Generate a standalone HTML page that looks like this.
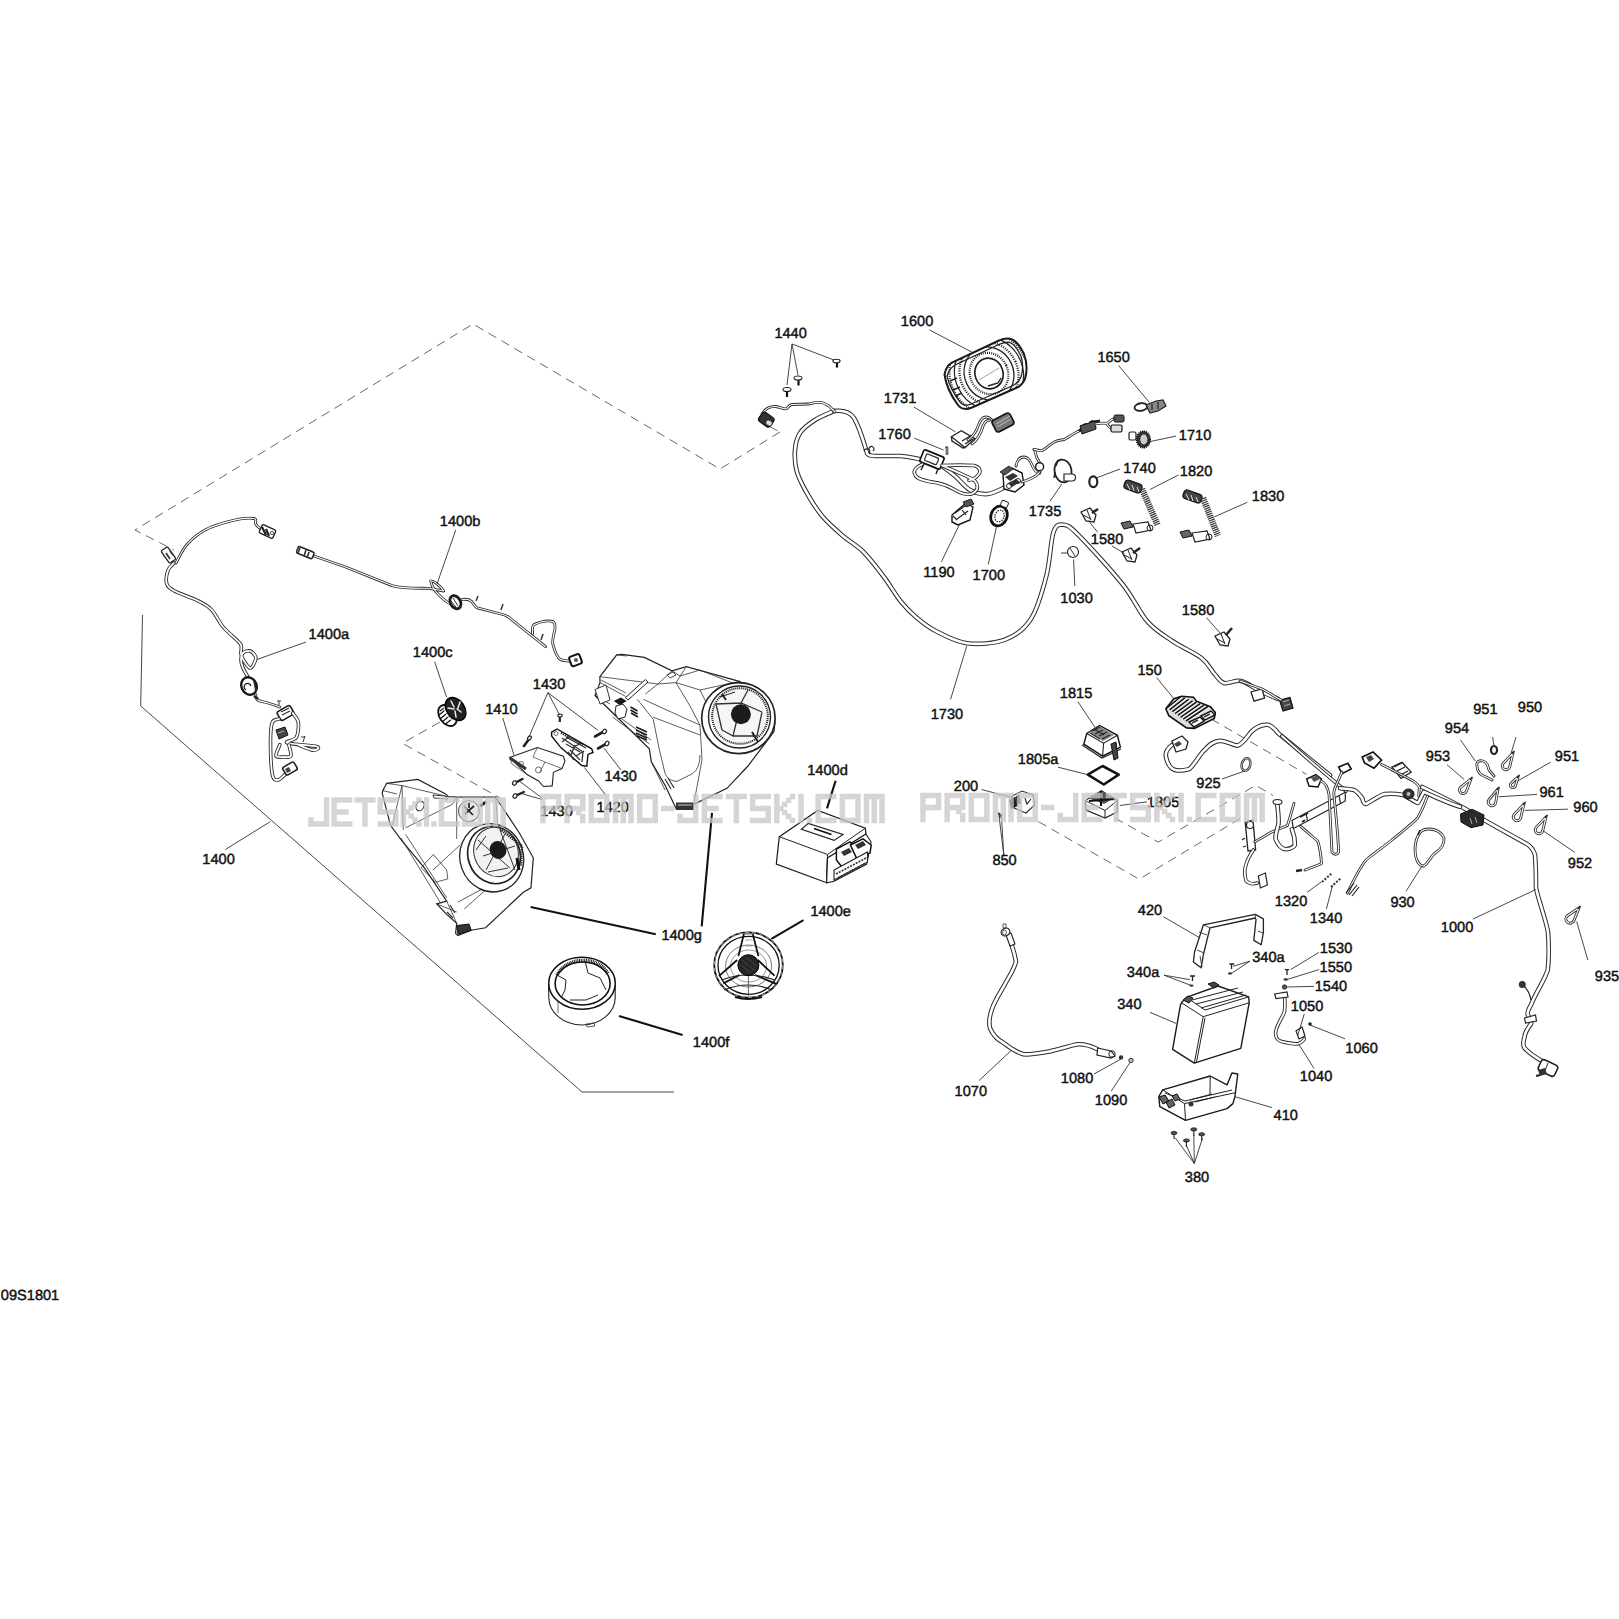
<!DOCTYPE html>
<html><head><meta charset="utf-8">
<style>
html,body{margin:0;padding:0;background:#fff;width:1619px;height:1619px;overflow:hidden}
svg{position:absolute;left:0;top:0}
text{font-family:"Liberation Sans",sans-serif;font-size:14.6px;fill:#111;stroke:#111;stroke-width:0.45;text-rendering:geometricPrecision}
.ld{stroke:#333;stroke-width:0.9;fill:none}
.lt{stroke:#111;stroke-width:2.1;fill:none}
.ds{stroke:#555;stroke-width:0.9;fill:none;stroke-dasharray:9 6}
.c2{fill:none;stroke:#2a2a2a;stroke-width:2.8;stroke-linecap:round;stroke-linejoin:round}
.c2i{fill:none;stroke:#fff;stroke-width:1.1;stroke-linecap:round;stroke-linejoin:round}
.c3{fill:none;stroke:#2a2a2a;stroke-width:3.6;stroke-linecap:round;stroke-linejoin:round}
.c3i{fill:none;stroke:#fff;stroke-width:1.8;stroke-linecap:round;stroke-linejoin:round}
.c4{fill:none;stroke:#2a2a2a;stroke-width:4.6;stroke-linecap:round;stroke-linejoin:round}
.c4i{fill:none;stroke:#fff;stroke-width:2.6;stroke-linecap:round;stroke-linejoin:round}
.p{fill:#fff;stroke:#222;stroke-width:1}
.pg{fill:#eee;stroke:#222;stroke-width:1}
.dk{fill:#2a2a2a;stroke:#111;stroke-width:1}
.th{fill:none;stroke:#333;stroke-width:0.7}
</style></head><body>
<svg width="1619" height="1619" viewBox="0 0 1619 1619">
<g id="outlines">
<polyline class="ds" points="780,432 720,469 473,324 135,530 174,550"/>
<polyline class="ld" points="142.5,615 140.7,706 582,1092 674,1092"/>
<polyline class="ds" points="439.8,722.1 402.5,743.3 500,798"/>
</g>
<g id="outlines2">
<polyline class="ds" points="769.6,426.5 780.8,432.6"/>
<polyline class="ds" points="1038.4,821.6 1139.2,879.2 1243.4,816.6"/>
<polyline class="ds" points="1115,818 1158.2,842.1 1255.8,785.3 1273,795.6"/>
<polyline class="ds" points="1211.3,719 1306.6,774.4"/>
</g>
<path d="M174.0,563.0 C173.0,564.2 169.2,567.0 168.0,570.4 C166.8,573.8 165.7,580.0 166.7,583.4 C167.7,586.8 169.1,588.0 174.0,590.8 C178.9,593.6 190.1,596.9 196.3,600.0 C202.5,603.1 206.9,605.1 211.2,609.4 C215.5,613.7 218.9,621.7 222.3,626.0 C225.7,630.3 228.5,632.2 231.6,635.3 C234.7,638.4 239.2,641.5 240.8,644.6 C242.4,647.7 240.5,651.1 241.0,653.8 C241.5,656.5 242.5,658.6 244.0,661.0 C245.5,663.4 248.4,667.5 250.0,668.0 C251.6,668.5 252.9,665.8 253.8,664.0 C254.8,662.2 256.3,659.2 255.7,657.0 C255.1,654.8 252.1,651.7 250.0,651.0 C247.9,650.3 244.5,651.5 243.0,653.0 C241.5,654.5 241.0,657.5 241.0,660.0 C241.0,662.5 241.8,665.2 243.0,668.0 C244.2,670.8 247.2,675.5 248.0,677.0" class="c3"/><path d="M174.0,563.0 C173.0,564.2 169.2,567.0 168.0,570.4 C166.8,573.8 165.7,580.0 166.7,583.4 C167.7,586.8 169.1,588.0 174.0,590.8 C178.9,593.6 190.1,596.9 196.3,600.0 C202.5,603.1 206.9,605.1 211.2,609.4 C215.5,613.7 218.9,621.7 222.3,626.0 C225.7,630.3 228.5,632.2 231.6,635.3 C234.7,638.4 239.2,641.5 240.8,644.6 C242.4,647.7 240.5,651.1 241.0,653.8 C241.5,656.5 242.5,658.6 244.0,661.0 C245.5,663.4 248.4,667.5 250.0,668.0 C251.6,668.5 252.9,665.8 253.8,664.0 C254.8,662.2 256.3,659.2 255.7,657.0 C255.1,654.8 252.1,651.7 250.0,651.0 C247.9,650.3 244.5,651.5 243.0,653.0 C241.5,654.5 241.0,657.5 241.0,660.0 C241.0,662.5 241.8,665.2 243.0,668.0 C244.2,670.8 247.2,675.5 248.0,677.0" class="c3i"/>
<path d="M176.0,563.0 C177.8,559.9 182.1,550.0 187.0,544.5 C191.9,539.0 197.9,533.7 205.6,529.7 C213.3,525.7 225.4,522.3 233.4,520.4 C241.4,518.5 250.1,517.9 253.8,518.5 C257.5,519.1 254.8,522.5 255.7,524.0 C256.6,525.5 258.0,526.8 259.4,527.8 C260.8,528.8 263.2,529.6 264.0,530.0" class="c2"/><path d="M176.0,563.0 C177.8,559.9 182.1,550.0 187.0,544.5 C191.9,539.0 197.9,533.7 205.6,529.7 C213.3,525.7 225.4,522.3 233.4,520.4 C241.4,518.5 250.1,517.9 253.8,518.5 C257.5,519.1 254.8,522.5 255.7,524.0 C256.6,525.5 258.0,526.8 259.4,527.8 C260.8,528.8 263.2,529.6 264.0,530.0" class="c2i"/>
<rect x="161" y="551" width="15" height="8" rx="1.5" transform="rotate(55 168.5 555)" fill="#fff" stroke="#222" stroke-width="1.3"/>
<path d="M166,553 l4,6 M170,551 l3,4" stroke="#333" stroke-width="1.6"/>
<rect x="260" y="527" width="15" height="9" rx="1.5" transform="rotate(25 267.5 531.5)" fill="#fff" stroke="#222" stroke-width="1.3"/>
<path d="M262,527 l4,8 M266,529 l3,7" stroke="#222" stroke-width="2.2"/><circle cx="272" cy="533" r="1.6" fill="none" stroke="#222" stroke-width="0.8"/>
<ellipse cx="249" cy="686" rx="7.5" ry="9" transform="rotate(-25 249 686)" fill="#fff" stroke="#1a1a1a" stroke-width="2.4"/>
<path d="M246,690 a3.5,3.5 0 1,1 5,-4" fill="none" stroke="#222" stroke-width="1.3"/><path d="M254,680 l2,10" stroke="#222" stroke-width="2"/>
<path d="M255.7,694.6 C256.0,695.5 255.4,698.6 257.5,700.0 C259.6,701.4 264.3,701.8 268.0,703.0 C271.7,704.2 277.8,706.3 279.8,707.0" class="c2"/><path d="M255.7,694.6 C256.0,695.5 255.4,698.6 257.5,700.0 C259.6,701.4 264.3,701.8 268.0,703.0 C271.7,704.2 277.8,706.3 279.8,707.0" class="c2i"/>
<path d="M254,696 l4,3" stroke="#222" stroke-width="2.5"/>
<rect x="278" y="708" width="15" height="10" rx="2" transform="rotate(-30 285.5 713)" fill="#fff" stroke="#1a1a1a" stroke-width="1.6"/>
<path d="M281,712 l8,-4 M282,715 l8,-4" stroke="#333" stroke-width="1.3"/>
<path d="M279,705 v-4 M277,701 h4" stroke="#333" stroke-width="1"/>
<path d="M279.0,719.0 C277.9,719.6 273.7,718.7 272.3,722.4 C270.9,726.1 270.5,732.4 270.5,741.0 C270.5,749.6 271.1,767.8 272.3,774.3 C273.6,780.8 275.8,780.0 278.0,780.0 C280.2,780.0 284.1,775.2 285.3,774.3" class="c3"/><path d="M279.0,719.0 C277.9,719.6 273.7,718.7 272.3,722.4 C270.9,726.1 270.5,732.4 270.5,741.0 C270.5,749.6 271.1,767.8 272.3,774.3 C273.6,780.8 275.8,780.0 278.0,780.0 C280.2,780.0 284.1,775.2 285.3,774.3" class="c3i"/>
<path d="M292.7,713.0 C293.6,714.6 297.7,718.4 298.3,722.4 C298.9,726.4 298.2,733.9 296.4,737.3 C294.5,740.7 283.8,741.3 287.2,742.8 C290.6,744.3 312.5,745.3 316.8,746.5 C321.1,747.7 316.1,750.5 313.0,750.2 C309.9,749.9 300.5,745.6 298.0,744.7" class="c3"/><path d="M292.7,713.0 C293.6,714.6 297.7,718.4 298.3,722.4 C298.9,726.4 298.2,733.9 296.4,737.3 C294.5,740.7 283.8,741.3 287.2,742.8 C290.6,744.3 312.5,745.3 316.8,746.5 C321.1,747.7 316.1,750.5 313.0,750.2 C309.9,749.9 300.5,745.6 298.0,744.7" class="c3i"/>
<path d="M279.8,744.7 C279.2,746.6 275.3,753.8 276.0,755.8 C276.7,757.8 281.5,757.0 284.0,757.0 C286.5,757.0 290.1,757.8 290.9,755.8 C291.7,753.8 289.3,746.8 289.0,745.0" class="c3"/><path d="M279.8,744.7 C279.2,746.6 275.3,753.8 276.0,755.8 C276.7,757.8 281.5,757.0 284.0,757.0 C286.5,757.0 290.1,757.8 290.9,755.8 C291.7,753.8 289.3,746.8 289.0,745.0" class="c3i"/>
<path d="M276,730 l9,-3 l3,8 l-9,4 z" fill="#444" stroke="#111" stroke-width="1"/>
<path d="M278,733 l6,-2" stroke="#ccc" stroke-width="0.8"/>
<rect x="283.5" y="764" width="13" height="9" rx="2" transform="rotate(-30 290 768.5)" fill="#fff" stroke="#1a1a1a" stroke-width="1.6"/>
<path d="M285,769 l4,-2 l2,4 l-4,2 z" fill="#444"/>
<path d="M303,742 l2,-6 M301,737 h4" stroke="#333" stroke-width="1"/>
<path d="M314,556 L345.6,567 L391.9,585.6 C405,589 420,588 429,588.3 L443.7,591 C440,585 432,580 430.7,581 C432,587 436,592 438,594 C443,599 447,603 451,604" class="c2"/><path d="M314,556 L345.6,567 L391.9,585.6 C405,589 420,588 429,588.3 L443.7,591 C440,585 432,580 430.7,581 C432,587 436,592 438,594 C443,599 447,603 451,604" class="c2i"/>
<path d="M462,599.4 C466,599 470,600 471.5,601.3 C474,604 475,607 477,607.8 L501,614 C505,615 507,616 508.5,617 L545.6,646.7" class="c2"/><path d="M462,599.4 C466,599 470,600 471.5,601.3 C474,604 475,607 477,607.8 L501,614 C505,615 507,616 508.5,617 L545.6,646.7" class="c2i"/>
<path d="M532.6,633.7 C532,628 533,625 534.4,624.4 C540,622 548,620 553,621.7 C556,624 555,628 554.8,630 C553,637 552,642 553,644.8 C555,652 557,657 560.4,659.6 C564,661 568,661 571.5,661.5" class="c2"/><path d="M532.6,633.7 C532,628 533,625 534.4,624.4 C540,622 548,620 553,621.7 C556,624 555,628 554.8,630 C553,637 552,642 553,644.8 C555,652 557,657 560.4,659.6 C564,661 568,661 571.5,661.5" class="c2i"/>
<rect x="297" y="549" width="17" height="7" rx="1.5" transform="rotate(22 305 552)" fill="#fff" stroke="#222" stroke-width="1.5"/>
<path d="M300,548 l-2,5 M306,550 l-2,6 M309,552 l-2,6" stroke="#333" stroke-width="1.6"/>
<path d="M476,601 l2,-5 M501,610 l2,-6 M541,640 l2,-6" stroke="#333" stroke-width="1.5"/>
<ellipse cx="455.4" cy="602.2" rx="5" ry="7" transform="rotate(-30 455.4 602.2)" fill="#fff" stroke="#1a1a1a" stroke-width="2.8"/>
<path d="M453,598 l5,8 M451,601 l5,6" stroke="#333" stroke-width="1"/>
<rect x="570" y="655" width="11" height="10" rx="2" transform="rotate(-20 576 660)" fill="#fff" stroke="#111" stroke-width="2"/>
<circle cx="576" cy="660" r="2" fill="#555"/>
<ellipse cx="447.5" cy="715.5" rx="11.5" ry="8" transform="rotate(55 447.5 715.5)" fill="#fff" stroke="#111" stroke-width="1.8"/>
<path d="M440,711 l8,-6 M439,715 l10,-8 M440,719 l11,-9 M442,722 l11,-9 M445,724.5 l10,-8" stroke="#111" stroke-width="1.2"/>
<ellipse cx="455.6" cy="709" rx="12.6" ry="9" transform="rotate(55 455.6 709)" fill="#222" stroke="#000" stroke-width="1.4"/>
<path d="M451,701 l3,6 M448,708 l6,1 M460,702 l-2,6 M461,712 l-4,-3 M456,717 l-1,-6" stroke="#eee" stroke-width="1.5" stroke-linecap="round"/>
<path d="M444,707 C445,714 449,719 454,721" stroke="#fff" stroke-width="1" fill="none"/>
<path d="M509.6,757.5 L537.4,747.6 L563.3,756.2 L565,761 L562,768.6 L553.4,772.3 L552.2,785.9 L543.5,786.5 L538.6,781 L527.5,774.8 Z" class="p" style="stroke-width:1.1"/>
<path d="M509.6,757.5 L512,764 L527.5,774.8 M537.4,747.6 L533,757 L545,762 L562,768.6 M545,762 L540,772" class="th"/>
<path d="M510,758 l16,11" stroke="#333" stroke-width="3"/>
<circle cx="538.5" cy="770" r="3" class="th"/><circle cx="521" cy="764" r="2.5" class="th"/>
<path d="M551.6,732.2 L557,729 L591.7,748.8 L593,752.5 L588,754.4 L586.8,766.1 L581.8,765.5 L560.8,747.6 L551.6,736 Z" fill="#fff" stroke="#111" stroke-width="1.4"/>
<path d="M562,738 L583,752 L582,762 M566,744 l14,8 M570,750 l10,10 M575,745 l-4,10 M566,737 l20,11 M562,742 l8,-6 M572,748 l9,-5 M576,756 l8,-5 M568,752 l6,8" class="th" style="stroke-width:1.3"/>
<path d="M561,733 l22,12" stroke="#222" stroke-width="2.2" stroke-dasharray="1.2 1"/>
<circle cx="556" cy="733.5" r="2" class="th"/>
<path d="M524,746 L529,739" stroke="#222" stroke-width="2.6" stroke-linecap="round"/><ellipse cx="529.5" cy="738" rx="2.2" ry="1.6" transform="rotate(-50 529.5 738)" fill="#fff" stroke="#222" stroke-width="1.2"/>
<path d="M559.8,717 v5" stroke="#222" stroke-width="2.2"/><ellipse cx="560" cy="715.5" rx="2.2" ry="1.5" fill="#fff" stroke="#222" stroke-width="1.1"/>
<path d="M595,736.5 L603,732" stroke="#222" stroke-width="2.6" stroke-linecap="round"/><ellipse cx="604.5" cy="731.5" rx="1.8" ry="2.4" transform="rotate(30 604.5 731.5)" fill="#fff" stroke="#222" stroke-width="1.2"/>
<path d="M598,748.5 L606,744" stroke="#222" stroke-width="2.6" stroke-linecap="round"/><ellipse cx="607" cy="743.5" rx="1.8" ry="2.4" transform="rotate(30 607 743.5)" fill="#fff" stroke="#222" stroke-width="1.2"/>
<path d="M516,782.4 L522.5,779" stroke="#222" stroke-width="2.4" stroke-linecap="round"/><ellipse cx="514.5" cy="783" rx="1.8" ry="2.4" transform="rotate(30 514.5 783)" fill="#fff" stroke="#222" stroke-width="1.2"/>
<path d="M516.5,795.4 L523.8,792" stroke="#222" stroke-width="2.4" stroke-linecap="round"/><ellipse cx="515" cy="796" rx="1.8" ry="2.4" transform="rotate(30 515 796)" fill="#fff" stroke="#222" stroke-width="1.2"/>
<path d="M382.8,790.6 L386.7,783.3 L417.8,779.4 L445.6,793.9 L448.3,796.7 L456.7,797.2 L495.6,797.2 L518.9,832.2 L533.3,857.8 L531,887.8 L523.3,892.2 L485.6,927.8 L472.2,930 L457.8,935.6 L455.6,933.3 L456.7,923.3 L446.7,914.4 L436.7,903.9 L446.7,901.1 L424.4,867.8 L402.2,841.1 L390.6,825.6 L382.2,793.3 Z" class="p" style="stroke-width:1.2"/>
<path d="M386.7,783.3 L402,785.6 L448.3,796.7 M402,785.6 L392,826 M402,785.6 L403.3,830 M405.6,827.8 L452.2,804.4 L456.7,797.2 M382.8,790.6 L397,794 M456.7,797.2 L456.7,838.9 M495.6,797.2 L497.8,825.6 M421.1,867.8 L433.3,854.4 L446.7,870 L447.8,878.9 L435.6,882.2 Z M405.6,834.4 L446.7,897.8 M401,838 L440,902 M457.8,902.2 L484.4,887.8 M464.4,908.9 L485.6,890 M446.7,901.1 L456.7,923.3 M436.7,903.9 L456.7,912 M470,843 L462,862 L478,885 M433,870 L460,845" class="th" style="stroke-width:0.8"/>
<path d="M433,795 l12,1 l3,3 l-14,-1 z" fill="#fff" stroke="#222" stroke-width="0.9"/>
<ellipse cx="420" cy="806" rx="3.8" ry="5" transform="rotate(25 420 806)" fill="#fff" stroke="#222" stroke-width="1"/>
<circle cx="468.9" cy="811.1" r="10.5" fill="#e6e6e6" stroke="#444" stroke-width="0.9"/>
<path d="M464,806 l9,9 M474,806 l-9,8 M469,803 v5" stroke="#222" stroke-width="1.7"/>
<path d="M480,806 l6,-4" stroke="#111" stroke-width="3"/>
<ellipse cx="491.7" cy="857.8" rx="31.7" ry="34.4" transform="rotate(-20 491.7 857.8)" class="p" style="stroke-width:1.3"/>
<ellipse cx="494" cy="855" rx="26" ry="29" transform="rotate(-20 494 855)" class="p" style="stroke-width:1.7"/>
<ellipse cx="496" cy="852" rx="22" ry="25" transform="rotate(-20 496 852)" fill="#f2f2f2" stroke="#333" stroke-width="1"/>
<path d="M478,840 L510,868 M505,834 L486,870 M483,856 L515,846 M500,830 L515,870 M476,850 l10,-14 M488,872 l20,-4" class="th" style="stroke-width:1"/>
<path d="M500,829 L522,846 L521,866" stroke="#222" stroke-width="2.6" fill="none" stroke-dasharray="1.3 0.9"/>
<path d="M517,858 l2,12" stroke="#111" stroke-width="3"/>
<ellipse cx="498" cy="850" rx="8.3" ry="9" transform="rotate(-25 498 850)" fill="#1a1a1a"/>
<path d="M456.7,925.6 L469,924 L471.1,930 L458,934.4 Z" fill="#333" stroke="#111" stroke-width="1"/>
<path d="M450,905 l5,8 M447,912 l6,6" stroke="#333" stroke-width="1.2"/>
<path d="M616.7,654.9 L622.1,654.3 L644.3,657.4 L672,670.8 L686.3,666.6 L739.4,681.4 L760,692 L772,708 L775,722 L774,731.5 L748,766 L727,788.3 L693.7,804.4 L676.4,809.3 L665.3,785.8 L651.3,761.7 L649.3,748.8 L595,695.5 L600,682.6 L599.9,676.7 Z" class="p" style="stroke-width:1.2"/>
<path d="M599.9,676.7 L616.7,654.9 M600,682.6 L625.6,696.4 M601,680 L626,693 M599.9,676.7 L658,684 L672,670.8 M658,684 L645.3,694 M616.7,654.9 L627,656 M658,684 L676,682.6 L686.3,666.6 M676,682.6 L700,690 L739.4,681.4 M676,682.6 L690,706 L700,725.1 L702,760 L693.7,804.4 M612.7,717.2 L649.3,743.9 M615,714 L651,740 M637.4,699.4 L653.2,719.2 L659.2,748.8 L665.1,773.5 Q668,781 677,781.4 L692.8,773.5 Q700,768 700,755 M643.4,699.4 L700,725.1 M653.2,717.2 L700,735 M651.3,761.7 L665,790 M595,695.5 L610,704 M672,670.8 L680,676 L700,670 L745,688 M700,690 L707,704 L744,716" class="th" style="stroke-width:0.8"/>
<path d="M625.6,697.4 L645.3,679.6 L648,682 L628,700 Z" fill="#fff" stroke="#222" stroke-width="1"/>
<path d="M595,689.5 L606,685 L610,700 L600,704 Z" fill="#fff" stroke="#222" stroke-width="0.9"/>
<path d="M613.7,701 L621,697.4 L626.6,701 L620,705.3 Z" fill="#1a1a1a"/>
<path d="M616,706 l7,-2 l4,5 l-2,8 l-7,2 l-3,-6 z" fill="#fff" stroke="#222" stroke-width="1"/>
<path d="M630.5,707 l7,4 M630.5,710 l7,4 M631,713 l7,4" stroke="#1a1a1a" stroke-width="1.6"/>
<path d="M636,727 l11,5 M636,730 l11,5 M636,733 l11,5 M637,736 l10,4" stroke="#1a1a1a" stroke-width="1.5"/>
<path d="M665,779 l6,10 M668,778 l6,10" stroke="#333" stroke-width="1.2"/>
<path d="M667,675 l6,-3 l3,3 l-6,3 z" fill="none" stroke="#333" stroke-width="0.9"/>
<ellipse cx="738.4" cy="718.1" rx="36.7" ry="35.5" class="p" style="stroke-width:1.7"/>
<ellipse cx="739.5" cy="717" rx="31" ry="31" class="p" style="stroke-width:1.4"/>
<ellipse cx="740" cy="716" rx="27.8" ry="27.8" fill="#f6f6f6" stroke="#222" stroke-width="2" stroke-dasharray="1.1 0.9"/>
<path d="M716,704 L741,703 L762,712 M741,703 L733,736 L722,730 M733,736 L757,736 L762,712 M716,704 L722,730 M748,690 L741,703 M720,697 L735,692" class="th" style="stroke-width:1.3"/>
<path d="M752,732 l6,10 M726,700 l-4,-6" stroke="#222" stroke-width="2"/>
<circle cx="740.9" cy="714.2" r="10" fill="#1c1c1c"/>
<path d="M676,802.5 h18 v7.5 h-18 z" fill="#333"/>
<path d="M678,805 h14" stroke="#ccc" stroke-width="1"/>
<path d="M779.3,836.7 L817.8,810.4 L865.3,828.2 L866,834 L827.5,858 L826.7,882.7 L776.3,864.1 Z" fill="#fff" stroke="#1a1a1a" stroke-width="1.2"/>
<path d="M779.3,836.7 L827.5,854.5 L865.3,828.2 M827.5,854.5 L826.7,882.7 M830,856 L829,882" stroke="#222" stroke-width="1" fill="none"/>
<path d="M801.5,829.3 L808.2,823.4 L843,834.5 L834.1,840.4 Z" fill="none" stroke="#222" stroke-width="1.2"/>
<path d="M814,828.5 L831.5,834.5" stroke="#111" stroke-width="1.8"/>
<path d="M827.5,858 L866,834 L871,842 L866.7,864.1 L834.1,881.2 L826.7,882.7 Z" fill="#fff" stroke="#1a1a1a" stroke-width="1.1"/>
<path d="M836.4,849 L850,841.9 L856.4,850 L856,860 L842,867 L836.4,860 Z" fill="#fff" stroke="#111" stroke-width="1.5"/>
<path d="M850.4,845 L863,838.9 L871.2,845 L870,853 L857,859 Z" fill="#fff" stroke="#111" stroke-width="1.5"/>
<path d="M841,852 l8,-4 l3,4 l-8,4 z M855,845 l8,-4 l3,4 l-8,4 z" fill="#333"/>
<path d="M834,870 L867.5,852 L867.5,862 L834,880 Z" fill="#fff" stroke="#222" stroke-width="1.1"/>
<path d="M836,874 l30,-16 M838,878 l28,-15" stroke="#333" stroke-width="1.6" stroke-dasharray="2 1.2"/>
<ellipse cx="748.5" cy="965" rx="34.3" ry="32.6" fill="#fff" stroke="#111" stroke-width="1.8"/>
<ellipse cx="748.5" cy="965" rx="34.3" ry="32.6" fill="none" stroke="#fff" stroke-width="0.6" stroke-dasharray="4 3"/>
<ellipse cx="748.6" cy="965.3" rx="30.6" ry="29" fill="none" stroke="#111" stroke-width="1.3"/>
<ellipse cx="748.6" cy="966" rx="23" ry="21" fill="none" stroke="#444" stroke-width="0.7"/>
<ellipse cx="748.6" cy="966" rx="18" ry="16" fill="none" stroke="#555" stroke-width="0.6"/>
<path d="M743.9,934 L738.4,956.1 M752.8,934 L758.4,956.1 M737.2,960 L718.9,976.1 M739.5,975 L723.3,983.4 M757.8,960 L774.5,975.6 M755,975 L776.2,983.9" stroke="#111" stroke-width="1.8" fill="none"/>
<path d="M721.7,980 Q748.4,970 774.5,980 M724,990 Q748.4,980 772,990" stroke="#222" stroke-width="1.1" fill="none"/>
<path d="M748.4,976 V996 M744,934 h9" stroke="#444" stroke-width="0.8" fill="none"/>
<path d="M745,940 h7 M745,946 h7" stroke="#666" stroke-width="0.6"/>
<circle cx="748.4" cy="965.2" r="10.5" fill="#262626" stroke="#000" stroke-width="1"/>
<path d="M742,960 l12,10 M741,965 l10,8 M746,957 l10,9" stroke="#555" stroke-width="0.7"/>
<path d="M735,997 Q748,1001 762,997" stroke="#111" stroke-width="2" fill="none"/>
<path d="M548.5,984 L548.8,997.5 A33.2,27.5 0 0,0 615.2,997.5 L615.2,984 Z" fill="#fff" stroke="#222" stroke-width="1.1"/>
<path d="M558,1000 L558,1013" stroke="#333" stroke-width="0.7"/>
<ellipse cx="582" cy="983.3" rx="33.3" ry="26" fill="#fff" stroke="#111" stroke-width="1.5"/>
<ellipse cx="582.6" cy="983.5" rx="27.5" ry="21.5" fill="#fff" stroke="#111" stroke-width="1.6"/>
<path d="M557,975 C563,964 575,960 585,960.5 C596,961 604,966 608,974" fill="none" stroke="#111" stroke-width="3.6" stroke-dasharray="0.9 0.8"/>
<path d="M557,975 L566,980 L565,990 L561,998 M585,961 L588,973 L600,978 L606,990 M570,1000 L586,1000 L598,995" fill="none" stroke="#222" stroke-width="1"/>
<path d="M586,1024 l8,-1 l1,3 l-8,1 z" fill="none" stroke="#333" stroke-width="0.8"/>
<ellipse cx="787" cy="389.5" rx="4" ry="2" fill="#fff" stroke="#222" stroke-width="1.1"/><path d="M787,391.5 v5.5" stroke="#111" stroke-width="2.2"/>
<ellipse cx="798" cy="378" rx="4" ry="2" fill="#fff" stroke="#222" stroke-width="1.1"/><path d="M798.5,380 v5.5" stroke="#111" stroke-width="2.2"/>
<ellipse cx="836.5" cy="361" rx="3.6" ry="1.8" fill="#fff" stroke="#222" stroke-width="1.1"/><path d="M837,362.8 v4.8" stroke="#111" stroke-width="2.2"/>
<path d="M834.0,411.0 C830.8,412.5 820.7,416.3 815.0,420.0 C809.3,423.7 803.3,428.0 800.0,433.0 C796.7,438.0 795.5,443.5 795.0,450.0 C794.5,456.5 794.8,464.5 797.0,472.0 C799.2,479.5 803.7,487.5 808.0,495.0 C812.3,502.5 817.2,510.2 823.0,517.0 C828.8,523.8 836.3,530.2 843.0,536.0 C849.7,541.8 856.2,544.7 863.0,551.5 C869.8,558.3 877.7,568.6 884.0,577.0 C890.3,585.4 895.5,594.9 901.0,601.7 C906.5,608.5 911.2,613.1 917.0,618.0 C922.8,622.9 927.4,626.8 935.7,631.0 C944.0,635.2 955.4,641.8 966.9,643.2 C978.4,644.7 994.3,643.7 1005.0,639.7 C1015.7,635.7 1024.0,629.7 1030.9,619.0 C1037.8,608.3 1042.7,590.1 1046.4,575.7 C1050.2,561.3 1050.6,541.0 1053.4,532.5 C1056.2,524.0 1058.9,524.4 1063.0,524.7 C1067.1,525.1 1068.1,524.7 1078.0,534.6 C1087.9,544.5 1110.9,569.6 1122.4,584.0 C1133.9,598.4 1138.8,611.5 1147.0,621.0 C1155.2,630.5 1162.7,634.5 1171.8,640.7 C1180.9,646.9 1194.4,652.6 1201.4,658.0 C1208.4,663.4 1210.0,668.8 1213.8,673.0 C1217.6,677.2 1219.5,681.7 1224.0,683.0 C1228.5,684.3 1235.0,679.7 1241.0,681.0 C1247.0,682.3 1253.8,688.0 1260.0,691.0 C1266.2,694.0 1275.0,697.7 1278.0,699.0" class="c4"/><path d="M834.0,411.0 C830.8,412.5 820.7,416.3 815.0,420.0 C809.3,423.7 803.3,428.0 800.0,433.0 C796.7,438.0 795.5,443.5 795.0,450.0 C794.5,456.5 794.8,464.5 797.0,472.0 C799.2,479.5 803.7,487.5 808.0,495.0 C812.3,502.5 817.2,510.2 823.0,517.0 C828.8,523.8 836.3,530.2 843.0,536.0 C849.7,541.8 856.2,544.7 863.0,551.5 C869.8,558.3 877.7,568.6 884.0,577.0 C890.3,585.4 895.5,594.9 901.0,601.7 C906.5,608.5 911.2,613.1 917.0,618.0 C922.8,622.9 927.4,626.8 935.7,631.0 C944.0,635.2 955.4,641.8 966.9,643.2 C978.4,644.7 994.3,643.7 1005.0,639.7 C1015.7,635.7 1024.0,629.7 1030.9,619.0 C1037.8,608.3 1042.7,590.1 1046.4,575.7 C1050.2,561.3 1050.6,541.0 1053.4,532.5 C1056.2,524.0 1058.9,524.4 1063.0,524.7 C1067.1,525.1 1068.1,524.7 1078.0,534.6 C1087.9,544.5 1110.9,569.6 1122.4,584.0 C1133.9,598.4 1138.8,611.5 1147.0,621.0 C1155.2,630.5 1162.7,634.5 1171.8,640.7 C1180.9,646.9 1194.4,652.6 1201.4,658.0 C1208.4,663.4 1210.0,668.8 1213.8,673.0 C1217.6,677.2 1219.5,681.7 1224.0,683.0 C1228.5,684.3 1235.0,679.7 1241.0,681.0 C1247.0,682.3 1253.8,688.0 1260.0,691.0 C1266.2,694.0 1275.0,697.7 1278.0,699.0" class="c4i"/>
<path d="M942.0,466.0 C944.2,467.7 950.3,472.0 955.0,476.0 C959.7,480.0 964.6,487.0 970.0,490.0 C975.4,493.0 981.7,494.4 987.5,494.0 C993.3,493.6 1001.9,488.5 1004.8,487.4" class="c4"/><path d="M942.0,466.0 C944.2,467.7 950.3,472.0 955.0,476.0 C959.7,480.0 964.6,487.0 970.0,490.0 C975.4,493.0 981.7,494.4 987.5,494.0 C993.3,493.6 1001.9,488.5 1004.8,487.4" class="c4i"/>
<path d="M834,411 C842,410 850,412 854,418 C860,428 863,440 867.2,453.6 C869,456 872,456 875.9,456 L900.6,456 C910,457 916,458 921.6,459.8" class="c4"/><path d="M834,411 C842,410 850,412 854,418 C860,428 863,440 867.2,453.6 C869,456 872,456 875.9,456 L900.6,456 C910,457 916,458 921.6,459.8" class="c4i"/>
<path d="M762,414 C765,409 770,406 776,406.5 C780,407 784,410 787,408.6 C789,406 789,405 792,404.5 L809,404 C813,403 816,402 819,402.4 C823,402 826,404 829,406 C831,408 833,410 835,412" class="c2"/><path d="M762,414 C765,409 770,406 776,406.5 C780,407 784,410 787,408.6 C789,406 789,405 792,404.5 L809,404 C813,403 816,402 819,402.4 C823,402 826,404 829,406 C831,408 833,410 835,412" class="c2i"/>
<defs><clipPath id="cl16"><path d="M944.5,374.5 C946,366 950,364 953,362 L999,340.5 C1004,338.5 1009,338 1012,339.5 C1016,341 1020,346 1024,354 C1027,362 1027,372 1025,379 C1022,385 1019,387 1016,388 L972,407.5 C966,410 961,409 958,405 C952,397 946,386 944.5,374.5 Z"/></clipPath></defs>
<path d="M944.5,374.5 C946,366 950,364 953,362 L999,340.5 C1004,338.5 1009,338 1012,339.5 C1016,341 1020,346 1024,354 C1027,362 1027,372 1025,379 C1022,385 1019,387 1016,388 L972,407.5 C966,410 961,409 958,405 C952,397 946,386 944.5,374.5 Z" fill="#fff" stroke="#1a1a1a" stroke-width="2"/>
<g clip-path="url(#cl16)" fill="none" stroke="#222">
<path d="M947,376 C949,369 953,366 956,364.5 L1000,344 C1005,342 1009,342 1011,343 C1015,345 1018,350 1021,356 C1023,363 1023,371 1021,377 C1019,382 1016,384 1013,385.5 L971,404 C966,406 962,405 960,402 C954,394 949,385 947,376 Z" stroke-width="1.3"/>
<ellipse cx="989" cy="373.5" rx="19" ry="21" transform="rotate(-25 989 373.5)" stroke-width="2.2" stroke-dasharray="1 1.1"/>
<ellipse cx="989" cy="373.5" rx="24.5" ry="27" transform="rotate(-25 989 373.5)" stroke-width="1.3"/>
<ellipse cx="989" cy="373.5" rx="29" ry="32" transform="rotate(-25 989 373.5)" stroke-width="2.4" stroke-dasharray="1 1.3"/>
<ellipse cx="989" cy="373.5" rx="34" ry="37" transform="rotate(-25 989 373.5)" stroke-width="1.2"/>
<ellipse cx="989" cy="373.5" rx="39" ry="42" transform="rotate(-25 989 373.5)" stroke-width="2" stroke-dasharray="1 1.2"/>
<path d="M953,390 L960,387 M955,396 l7,-3 M950,381 l7,-3" stroke-width="1.6"/>
</g>
<ellipse cx="989" cy="373.5" rx="14" ry="15.5" transform="rotate(-20 989 373.5)" fill="#fff" stroke="#1a1a1a" stroke-width="1.6"/>
<path d="M979,380 l20,-12" stroke="#666" stroke-width="0.6"/><path d="M988,386 l10,-3 l3,-5" fill="none" stroke="#222" stroke-width="1.4"/>
<path d="M951.4,436.7 L961.3,430.8 L975,438.7 L965,447.6 Z" fill="#fff" stroke="#222" stroke-width="1.3"/>
<path d="M951.4,436.7 L952,441 L963,448 L965,447.6 M962,441 l10,-6 M965,444 l8,-5" stroke="#222" stroke-width="1.4" fill="none"/>
<path d="M968,440 C974,436 977,430 979,423.9 C981,419 983,417 986,417 C989,417 991,419 993,421" class="c2"/><path d="M968,440 C974,436 977,430 979,423.9 C981,419 983,417 986,417 C989,417 991,419 993,421" class="c2i"/>
<path d="M972,444 C977,440 981,433 983,426 C985,421 987,420 990,420" class="c2"/><path d="M972,444 C977,440 981,433 983,426 C985,421 987,420 990,420" class="c2i"/>
<rect x="993" y="416" width="20" height="13" rx="3" transform="rotate(-28 1003 422.5)" fill="#777" stroke="#111" stroke-width="1.6"/>
<path d="M996,424 l14,-8 M997,427 l14,-8" stroke="#ccc" stroke-width="0.8"/>
<path d="M945,447 h3 M946.2,447 v8 M947.8,447 v8" stroke="#222" stroke-width="0.9" fill="none"/>
<rect x="921" y="453" width="22" height="13" rx="2" transform="rotate(22 932 459.5)" fill="#fff" stroke="#111" stroke-width="1.7"/>
<rect x="925" y="456" width="13" height="7" rx="1" transform="rotate(22 932 459.5)" fill="#fff" stroke="#222" stroke-width="1.1"/>
<path d="M924,464 l-3,6 M938,469 l-2,5" stroke="#222" stroke-width="1.5"/>
<path d="M864,451 a3,3 0 1,1 5,3 M869,449 a2.5,2.5 0 1,1 4,2" fill="none" stroke="#222" stroke-width="1.2"/>
<path d="M922.2,464.2 C916,467 913,471 914.8,474 C916,479 924,481 937,482.8 C947,485 952,488 955.6,490.2 C962,494 967,495 971.6,493.9 C978,491 979,486 975,481 C968,476 952,470 942,465.5 C955,465 965,465 974,465.5 C980,467 981,471 979,474 C976,478 972,480 969,480.3" class="c3"/><path d="M922.2,464.2 C916,467 913,471 914.8,474 C916,479 924,481 937,482.8 C947,485 952,488 955.6,490.2 C962,494 967,495 971.6,493.9 C978,491 979,486 975,481 C968,476 952,470 942,465.5 C955,465 965,465 974,465.5 C980,467 981,471 979,474 C976,478 972,480 969,480.3" class="c3i"/>
<path d="M1003,474 L1012,468 L1022,473 L1024,485 L1015,492 L1004,489 Z" fill="#fff" stroke="#111" stroke-width="1.4"/>
<path d="M1005,477 l8,-4 l5,3 l-8,5 z M1008,483 l8,-4 l4,3 l-8,5 z" fill="#333"/>
<circle cx="1009" cy="486" r="2.5" fill="none" stroke="#222" stroke-width="1"/><circle cx="1018" cy="481" r="2.5" fill="none" stroke="#222" stroke-width="1"/>
<path d="M1000,472 l9,-6 l4,3 l-8,6 z" fill="#555" stroke="#111" stroke-width="0.8"/>
<path d="M1016,466 C1017,460 1020,457 1024,457 C1028,457 1030,460 1032,465 C1034,470 1036,473 1040,473" class="c2"/><path d="M1016,466 C1017,460 1020,457 1024,457 C1028,457 1030,460 1032,465 C1034,470 1036,473 1040,473" class="c2i"/>
<path d="M1022,482 C1028,480 1034,478 1038,474 C1042,470 1041,464 1037,458 C1035,454 1036,451 1034,449.4" class="c2"/><path d="M1022,482 C1028,480 1034,478 1038,474 C1042,470 1041,464 1037,458 C1035,454 1036,451 1034,449.4" class="c2i"/>
<circle cx="1039.6" cy="466.7" r="4" fill="#fff" stroke="#222" stroke-width="1.5"/>
<path d="M1034,449.4 C1038,450 1040,451 1042,450.6 C1046,449 1050,444 1054.4,442 C1058,440 1061,440 1064.3,439.5 C1069,437 1074,433 1079,431" class="c2"/><path d="M1034,449.4 C1038,450 1040,451 1042,450.6 C1046,449 1050,444 1054.4,442 C1058,440 1061,440 1064.3,439.5 C1069,437 1074,433 1079,431" class="c2i"/>
<path d="M1079,431 L1086,426 L1094,422 L1100,421" stroke="#222" stroke-width="3" fill="none"/>
<path d="M1081,428 l6,-3 M1090,424 l4,-2" stroke="#222" stroke-width="5"/>
<path d="M952,515 L966,503 L973,507 L970,520 L958,525 L952,522 Z" fill="#fff" stroke="#111" stroke-width="1.4"/>
<path d="M955,513 l10,-7 M957,519 l11,-8 M953,516 l4,4 M962,510 l4,5" stroke="#222" stroke-width="1.2"/>
<path d="M963,502 l8,-3 l3,5 l-8,3 z" fill="#555" stroke="#222" stroke-width="1"/>
<ellipse cx="999" cy="516" rx="8" ry="10" transform="rotate(20 999 516)" fill="#fff" stroke="#111" stroke-width="2.8"/>
<ellipse cx="999.5" cy="516" rx="4.5" ry="6" transform="rotate(20 999.5 516)" fill="none" stroke="#333" stroke-width="1.3" stroke-dasharray="1.5 1"/>
<rect x="1001" y="501" width="7" height="6" rx="1.5" transform="rotate(25 1004.5 504)" fill="#fff" stroke="#222" stroke-width="1"/>
<ellipse cx="1063" cy="471" rx="8.5" ry="11.5" transform="rotate(-10 1063 471)" fill="#fff" stroke="#222" stroke-width="1.8"/>
<path d="M1056,466 l2,-6 M1055,472 l-1,6" stroke="#222" stroke-width="1.4"/>
<path d="M1064,474 h8 a3,3 0 0,1 0,7 h-8 z" fill="#fff" stroke="#222" stroke-width="1.2"/>
<circle cx="1073" cy="552" r="5.5" fill="#fff" stroke="#222" stroke-width="1.1"/><path d="M1061,553 h7 M1070,548 l5,8" stroke="#222" stroke-width="0.9"/>
<ellipse cx="1093.3" cy="481.7" rx="4" ry="5.4" fill="none" stroke="#222" stroke-width="2.2"/>
<ellipse cx="1141" cy="407" rx="6.5" ry="3.8" transform="rotate(-10 1141 407)" fill="none" stroke="#222" stroke-width="1.8"/>
<path d="M1146,405 L1156,401 L1163,400 L1166,406 L1158,411 L1150,413 Z" fill="#888" stroke="#222" stroke-width="1.2"/>
<path d="M1152,404 v6 M1158,402 v7" stroke="#222" stroke-width="1.2"/>
<path d="M1080,426 l15,-5 l1,8 l-14,5 z" fill="#555" stroke="#111" stroke-width="1"/>
<path d="M1095.6,424 C1100,423 1104,423 1106.7,423.4 C1109,422 1111,420 1113,419 M1106.7,423.4 C1108,426 1110,428 1112,428" class="c2"/><path d="M1095.6,424 C1100,423 1104,423 1106.7,423.4 C1109,422 1111,420 1113,419 M1106.7,423.4 C1108,426 1110,428 1112,428" class="c2i"/>
<rect x="1114" y="415" width="10" height="7" rx="1.5" fill="#555" stroke="#111" stroke-width="1"/>
<rect x="1111" y="425" width="11" height="7" rx="1.5" fill="#ddd" stroke="#111" stroke-width="1.2"/>
<rect x="1129" y="432" width="7" height="8" rx="1.5" fill="#fff" stroke="#222" stroke-width="1.2"/>
<ellipse cx="1143.4" cy="439.5" rx="6.8" ry="8.3" fill="#333" stroke="#111" stroke-width="1.6" stroke-dasharray="1.2 0.8"/>
<ellipse cx="1143.8" cy="439.5" rx="3.5" ry="5" fill="#ccc"/>
<rect x="1124" y="482" width="18" height="9" rx="3.5" transform="rotate(20 1133 486.5)" fill="#444" stroke="#111" stroke-width="1.2"/>
<path d="M1127,484 l3,6 M1132,485 l2,6 M1137,487 l2,5" stroke="#ddd" stroke-width="1"/>
<path d="M1142,489 L1157.8,525.6" stroke="#333" stroke-width="6.5" stroke-dasharray="1.2 0.9"/>
<path d="M1133,524 l15,-2 l3,8 l-15,3 z" fill="#fff" stroke="#222" stroke-width="1.2"/>
<path d="M1121,523 l9,-2 l3,6 l-9,2 z" fill="#666" stroke="#111" stroke-width="1"/>
<circle cx="1150" cy="528" r="3" fill="none" stroke="#222" stroke-width="1"/>
<rect x="1183" y="492" width="19" height="9" rx="3.5" transform="rotate(20 1192.5 496.5)" fill="#444" stroke="#111" stroke-width="1.2"/>
<path d="M1186,494 l3,6 M1191,495 l2,6 M1196,497 l2,5" stroke="#ddd" stroke-width="1"/>
<path d="M1203,498 L1217.9,535.7" stroke="#333" stroke-width="6.5" stroke-dasharray="1.2 0.9"/>
<path d="M1192,533 l15,-2 l3,8 l-15,3 z" fill="#fff" stroke="#222" stroke-width="1.2"/>
<path d="M1180,532 l9,-2 l3,6 l-9,2 z" fill="#666" stroke="#111" stroke-width="1"/>
<circle cx="1209" cy="537" r="3" fill="none" stroke="#222" stroke-width="1"/>
<path d="M1081,512 L1090,508 L1096,515 L1094,522 L1086,521 Z" fill="#fff" stroke="#222" stroke-width="1.3"/>
<path d="M1083,515 l8,4 M1087,510 l4,10" stroke="#222" stroke-width="1"/><path d="M1092,513 l6,-4" stroke="#222" stroke-width="2.5"/>
<path d="M1122,552 L1131,548 L1137,555 L1135,562 L1127,561 Z" fill="#fff" stroke="#222" stroke-width="1.3"/>
<path d="M1124,555 l8,4 M1128,550 l4,10" stroke="#222" stroke-width="1"/><path d="M1133,553 l7,-5" stroke="#222" stroke-width="2.5"/>
<path d="M1215,636 L1224,632 L1230,639 L1228,646 L1220,645 Z" fill="#fff" stroke="#222" stroke-width="1.3"/>
<path d="M1217,639 l8,4 M1221,634 l4,10" stroke="#222" stroke-width="1"/><path d="M1226,635 l6,-7" stroke="#222" stroke-width="2.5"/>
<path d="M1165.8,708.7 L1173.8,698.8 L1181.7,696.3 L1193.5,697.3 L1196.5,701.2 L1210.3,706.7 L1215.3,712.6 L1214.3,718.5 L1194.5,728.4 L1186.6,727.9 L1168.8,715.6 Z" fill="#ddd" stroke="#111" stroke-width="1.6"/>
<path d="M1167.0,708.0 L1181.0,696.5 M1169.7,709.9 L1184.9,697.9 M1172.4,711.7 L1188.7,699.4 M1175.1,713.6 L1192.6,700.8 M1177.9,715.4 L1196.4,702.2 M1180.6,717.3 L1200.3,703.6 M1183.3,719.1 L1204.1,705.1 M1186.0,721.0 L1208.0,706.5" fill="none" stroke="#111" stroke-width="1.5"/>
<path d="M1168.0,708.8 L1182.0,697.3 M1170.7,710.7 L1185.9,698.7 M1173.4,712.5 L1189.7,700.2 M1176.1,714.4 L1193.6,701.6 M1178.9,716.2 L1197.4,703.0 M1181.6,718.1 L1201.3,704.4 M1184.3,719.9 L1205.1,705.9 M1187.0,721.8 L1209.0,707.3" fill="none" stroke="#fff" stroke-width="0.7"/>
<path d="M1189,722 l11,-5 l4,4 l-10,6 z M1201,716 l10,-5 l4,4 l-10,5 z" fill="#fff" stroke="#111" stroke-width="1.4"/>
<path d="M1192,723 l6,-3 M1204,717 l6,-3" stroke="#333" stroke-width="1.5"/>
<path d="M1083.8,744.2 L1086.8,733.4 L1099.6,725.5 L1117.4,735.3 L1120.4,747.2 L1102.6,756.1 Z" fill="#fff" stroke="#111" stroke-width="1.4"/>
<path d="M1086.8,733.4 L1103.6,743.2 L1117.4,735.3 M1103.6,743.2 L1102.6,756.1 M1082,745 L1102,758 L1121,749" fill="none" stroke="#222" stroke-width="1.1"/>
<path d="M1089,732 L1100,726.5 L1114,735 L1103,741 Z" fill="#888"/>
<path d="M1092,731 l8,-4 M1095,734 l8,-4 M1099,736 l8,-4 M1102,739 l8,-4 M1094,729 l10,6 M1090,733 l10,6" stroke="#222" stroke-width="1.1"/>
<path d="M1111,744 l5,-2 l2,16 l-4,2 z" fill="#444" stroke="#111" stroke-width="1"/>
<path d="M1251,692 L1262,688.8 L1264.6,698 L1254,701.2 Z" fill="#fff" stroke="#222" stroke-width="1.3"/>
<path d="M1279.5,700 L1290,697.5 L1293,708 L1283,711 Z" fill="#444" stroke="#111" stroke-width="1.2"/>
<path d="M1283,702 l6,-2 M1284,706 l6,-2" stroke="#ccc" stroke-width="0.8"/>
<path d="M1240,681 C1248,684 1254,686 1262,689 C1270,693 1275,697 1281,700" class="c2"/><path d="M1240,681 C1248,684 1254,686 1262,689 C1270,693 1275,697 1281,700" class="c2i"/>
<path d="M1172,745 C1168,748 1165,752 1166,757 C1168,766 1172,770 1177,770.4 C1182,771 1186,770 1189.3,769.1 C1195,764 1200,754 1204,750.6 C1210,744 1214,741 1220.2,740.7 C1227,741 1232,745 1237.5,745.6 C1243,744 1247,737 1251,732 C1256,727 1261,725 1265.9,724.6 C1270,724 1274,728 1278.2,733.3 L1330,775.3" class="c4"/><path d="M1172,745 C1168,748 1165,752 1166,757 C1168,766 1172,770 1177,770.4 C1182,771 1186,770 1189.3,769.1 C1195,764 1200,754 1204,750.6 C1210,744 1214,741 1220.2,740.7 C1227,741 1232,745 1237.5,745.6 C1243,744 1247,737 1251,732 C1256,727 1261,725 1265.9,724.6 C1270,724 1274,728 1278.2,733.3 L1330,775.3" class="c4i"/>
<path d="M1172,741 L1182,736 L1188,742 L1186,749 L1176,752 Z" fill="#fff" stroke="#222" stroke-width="1.3"/>
<path d="M1174,744 l5,-3 l3,3 l-5,3 z" fill="#444"/>
<ellipse cx="1246" cy="764.5" rx="4.2" ry="6.5" transform="rotate(15 1246 764.5)" fill="none" stroke="#222" stroke-width="2.4"/>
<ellipse cx="1246" cy="764.5" rx="4.2" ry="6.5" transform="rotate(15 1246 764.5)" fill="none" stroke="#fff" stroke-width="0.7"/>
<path d="M1422.2,787 C1440,796 1455,803 1468,810.4 M1484,820 L1528.5,845 C1532,848 1534,851 1535,855 C1536,866 1536,878 1536,888.2 C1540,905 1546,920 1548,932 C1549,945 1549,958 1547.8,970 C1545,978 1542,983 1540,986.7 C1536,994 1533,1000 1531.2,1004.5 C1528,1010 1527,1013 1527.8,1014.5 C1529,1018 1531,1021 1531.2,1023.4 C1528,1028 1525,1032 1524.5,1036.8 C1523,1042 1523,1046 1524.5,1047.9 C1528,1052 1535,1057 1542.3,1061.2" class="c4"/><path d="M1422.2,787 C1440,796 1455,803 1468,810.4 M1484,820 L1528.5,845 C1532,848 1534,851 1535,855 C1536,866 1536,878 1536,888.2 C1540,905 1546,920 1548,932 C1549,945 1549,958 1547.8,970 C1545,978 1542,983 1540,986.7 C1536,994 1533,1000 1531.2,1004.5 C1528,1010 1527,1013 1527.8,1014.5 C1529,1018 1531,1021 1531.2,1023.4 C1528,1028 1525,1032 1524.5,1036.8 C1523,1042 1523,1046 1524.5,1047.9 C1528,1052 1535,1057 1542.3,1061.2" class="c4i"/>
<path d="M1460.5,814 L1472,809.2 L1484,815 L1483,825 L1471,827.7 L1461,822 Z" fill="#2a2a2a" stroke="#111" stroke-width="1"/>
<path d="M1470,818 l2,6 M1475,817 l2,6" stroke="#bbb" stroke-width="0.9"/>
<path d="M1281.9,736 C1300,752 1320,770 1346,791" class="c3"/><path d="M1281.9,736 C1300,752 1320,770 1346,791" class="c3i"/>
<path d="M1340,788.2 C1347,789 1352,789 1354.8,790.4 C1359,793 1361,797 1362.2,798 C1363,802 1364,804 1366,804 C1372,801 1378,796 1384.5,794.1 C1392,793 1398,794 1403,794.9 C1408,797 1413,801 1417.8,803 C1420,800 1422,795 1423.8,791.9 C1435,797 1448,803 1460,806.7" class="c4"/><path d="M1340,788.2 C1347,789 1352,789 1354.8,790.4 C1359,793 1361,797 1362.2,798 C1363,802 1364,804 1366,804 C1372,801 1378,796 1384.5,794.1 C1392,793 1398,794 1403,794.9 C1408,797 1413,801 1417.8,803 C1420,800 1422,795 1423.8,791.9 C1435,797 1448,803 1460,806.7" class="c4i"/>
<path d="M1291.9,820.4 L1345.3,792.3 M1293.4,828.6 L1345.3,801.1" stroke="#222" stroke-width="1.1" fill="none"/>
<path d="M1292,820.4 L1293.4,828.6 M1306,813 l1.5,8 M1339,795.5 l1.5,8 M1345.3,792.3 L1345.3,801.1" stroke="#222" stroke-width="1.2" fill="none"/>
<path d="M1300,817 l8,-4 M1302,822 l3,-2" stroke="#222" stroke-width="1.6"/>
<path d="M1306.7,779 L1316,774.5 L1321.5,779 L1318,787 L1309,786 Z" fill="#fff" stroke="#111" stroke-width="1.4"/>
<path d="M1311,778 l6,-3 l3,4 l-6,3 z" fill="#555"/>
<path d="M1338.6,767 L1348,763.3 L1351.2,769 L1342,773.7 Z" fill="#fff" stroke="#111" stroke-width="1.6"/>
<path d="M1362.2,757 L1373,751.9 L1381.5,760 L1374,768.2 L1364.5,763 Z" fill="#fff" stroke="#111" stroke-width="1.7"/>
<path d="M1366,757 l5,-2 l3,4 l-5,3 z" fill="#444"/>
<path d="M1391.9,767 L1402,762.2 L1411.2,772 L1401,778.5 Z" fill="#fff" stroke="#222" stroke-width="1.3"/>
<path d="M1394,767 l8,-4 M1397,771 l8,-4 M1400,775 l8,-4" stroke="#222" stroke-width="1.3"/>
<path d="M1321,781 C1326,783 1328,788 1329,794.5 C1330,810 1331,835 1332,852 C1334,855 1337,855 1338.6,852 C1338,835 1336,815 1334,796 C1333,790 1335,788 1342,772" class="c2"/><path d="M1321,781 C1326,783 1328,788 1329,794.5 C1330,810 1331,835 1332,852 C1334,855 1337,855 1338.6,852 C1338,835 1336,815 1334,796 C1333,790 1335,788 1342,772" class="c2i"/>
<path d="M1381.5,764.5 C1392,770 1405,776 1414,781.5 C1417,784 1419,786 1419.3,787.4 C1419,791 1419,794 1418.6,795.6" class="c2"/><path d="M1381.5,764.5 C1392,770 1405,776 1414,781.5 C1417,784 1419,786 1419.3,787.4 C1419,791 1419,794 1418.6,795.6" class="c2i"/>
<ellipse cx="1408.5" cy="794" rx="5.5" ry="5" fill="#333" stroke="#111" stroke-width="1"/>
<circle cx="1408.5" cy="794" r="2" fill="#bbb"/>
<path d="M1245.2,822 L1253,820.4 L1255.6,850 L1248,851 Z" fill="#fff" stroke="#222" stroke-width="1.3"/>
<circle cx="1250" cy="825" r="3.5" fill="#fff" stroke="#222" stroke-width="1.2"/>
<path d="M1245,838 l-3,2 M1246,846 l-3,1" stroke="#222" stroke-width="1.2"/>
<path d="M1253.3,850 C1250,855 1247,860 1246,864.9 C1244,870 1245,877 1246,880.6 C1249,884 1254,884 1257.2,883" class="c3"/><path d="M1253.3,850 C1250,855 1247,860 1246,864.9 C1244,870 1245,877 1246,880.6 C1249,884 1254,884 1257.2,883" class="c3i"/>
<path d="M1258.4,876 l7,-3 l2,12 l-7,3 z" fill="#fff" stroke="#222" stroke-width="1.2"/>
<path d="M1254.8,841.9 L1271.1,832.3 C1278,829 1284,827 1287.4,825.6 C1290,818 1292,810 1294,803.4" class="c2"/><path d="M1254.8,841.9 L1271.1,832.3 C1278,829 1284,827 1287.4,825.6 C1290,818 1292,810 1294,803.4" class="c2i"/>
<path d="M1277,801.9 C1278,810 1279,818 1278.5,824 C1277,830 1275,835 1275.6,839 C1278,845 1282,849 1286,849.3 C1290,849 1294,847 1294.9,844.9 C1295,838 1293,832 1291.9,829.3" class="c4"/><path d="M1277,801.9 C1278,810 1279,818 1278.5,824 C1277,830 1275,835 1275.6,839 C1278,845 1282,849 1286,849.3 C1290,849 1294,847 1294.9,844.9 C1295,838 1293,832 1291.9,829.3" class="c4i"/>
<ellipse cx="1277.5" cy="802" rx="4.5" ry="2.5" fill="#fff" stroke="#222" stroke-width="1.1"/>
<path d="M1300.8,826.4 C1307,832 1313,837 1317.8,841.2 C1320,848 1321,856 1321.5,863.4 C1316,866 1310,868 1305,870" class="c2"/><path d="M1300.8,826.4 C1307,832 1313,837 1317.8,841.2 C1320,848 1321,856 1321.5,863.4 C1316,866 1310,868 1305,870" class="c2i"/>
<path d="M1302,870 l-6,1" stroke="#222" stroke-width="2.5"/>
<path d="M1427.5,796.3 C1424,806 1421,812 1417.8,817.8 C1410,826 1400,833 1391.9,840 C1382,848 1372,855 1366,860 C1358,870 1352,884 1347.4,893" class="c2"/><path d="M1427.5,796.3 C1424,806 1421,812 1417.8,817.8 C1410,826 1400,833 1391.9,840 C1382,848 1372,855 1366,860 C1358,870 1352,884 1347.4,893" class="c2i"/>
<path d="M1346,893 l8,-10 M1349,895 l8,-10 M1352,896 l7,-9" stroke="#222" stroke-width="1.2"/>
<path d="M1322,882 l10,-9 M1331,887 l10,-9" stroke="#333" stroke-width="2" stroke-dasharray="2 1.5"/>
<path d="M1418,836 C1420,831 1424,829 1428,829 C1434,829 1441,831 1444,838 C1445,845 1440,850 1434,854 C1430,858 1428,863 1424,866 C1418,866 1415,858 1415,850 C1415,845 1416,840 1418,836" class="c2"/><path d="M1418,836 C1420,831 1424,829 1428,829 C1434,829 1441,831 1444,838 C1445,845 1440,850 1434,854 C1430,858 1428,863 1424,866 C1418,866 1415,858 1415,850 C1415,845 1416,840 1418,836" class="c2i"/>
<path d="M1418,835 l2,-5" stroke="#222" stroke-width="1.5"/>
<path d="M1471.0,779.0 L1466.4,791.3 A3.6,3.6 0 1,1 1460.8,787.2 Z" class="c2"/><path d="M1471.0,779.0 L1466.4,791.3 A3.6,3.6 0 1,1 1460.8,787.2 Z" class="c2i"/>
<path d="M1470,780 l2.5,-3" stroke="#222" stroke-width="1.6"/>
<path d="M1513.0,753.0 L1509.7,766.9 A3.8,3.8 0 1,1 1503.2,763.4 Z" class="c2"/><path d="M1513.0,753.0 L1509.7,766.9 A3.8,3.8 0 1,1 1503.2,763.4 Z" class="c2i"/>
<path d="M1512,754 l2.5,-3" stroke="#222" stroke-width="1.6"/>
<path d="M1518.0,777.0 L1515.5,785.7 A2.6,2.6 0 1,1 1511.3,783.1 Z" class="c2"/><path d="M1518.0,777.0 L1515.5,785.7 A2.6,2.6 0 1,1 1511.3,783.1 Z" class="c2i"/>
<path d="M1517,778 l2.5,-3" stroke="#222" stroke-width="1.6"/>
<path d="M1498.0,789.0 L1495.7,802.6 A3.8,3.8 0 1,1 1489.1,799.5 Z" class="c2"/><path d="M1498.0,789.0 L1495.7,802.6 A3.8,3.8 0 1,1 1489.1,799.5 Z" class="c2i"/>
<path d="M1497,790 l2.5,-3" stroke="#222" stroke-width="1.6"/>
<path d="M1524.0,804.0 L1520.7,817.9 A3.8,3.8 0 1,1 1514.2,814.4 Z" class="c2"/><path d="M1524.0,804.0 L1520.7,817.9 A3.8,3.8 0 1,1 1514.2,814.4 Z" class="c2i"/>
<path d="M1523,805 l2.5,-3" stroke="#222" stroke-width="1.6"/>
<path d="M1546.0,817.0 L1542.7,830.9 A3.8,3.8 0 1,1 1536.2,827.4 Z" class="c2"/><path d="M1546.0,817.0 L1542.7,830.9 A3.8,3.8 0 1,1 1536.2,827.4 Z" class="c2i"/>
<path d="M1545,818 l2.5,-3" stroke="#222" stroke-width="1.6"/>
<path d="M1579.0,908.0 L1573.9,920.6 A4.2,4.2 0 1,1 1567.7,915.5 Z" class="c2"/><path d="M1579.0,908.0 L1573.9,920.6 A4.2,4.2 0 1,1 1567.7,915.5 Z" class="c2i"/>
<path d="M1578,909 l2.5,-3" stroke="#222" stroke-width="1.6"/>
<path d="M1477,766 C1476,762 1479,760 1483,761 C1487,762 1488,766 1489,770 L1494,776 M1477,766 C1477,772 1480,775 1486,777 L1492,780" class="c2"/><path d="M1477,766 C1476,762 1479,760 1483,761 C1487,762 1488,766 1489,770 L1494,776 M1477,766 C1477,772 1480,775 1486,777 L1492,780" class="c2i"/>
<ellipse cx="1494" cy="750" rx="3" ry="4" fill="none" stroke="#222" stroke-width="2.2"/>
<circle cx="1522.3" cy="984.5" r="3.5" fill="#333"/><path d="M1524,986 C1528,990 1530,995 1531,1000" stroke="#222" stroke-width="1.2" fill="none"/>
<path d="M1524.5,1018 l11,-3 l1,6 l-11,2 z" fill="#fff" stroke="#222" stroke-width="1.2"/>
<rect x="1539" y="1062" width="18" height="12" rx="3" transform="rotate(25 1548 1068)" fill="#fff" stroke="#1a1a1a" stroke-width="1.5"/>
<path d="M1548,1063 l-4,10" stroke="#222" stroke-width="1"/>
<path d="M1538,1070 l7,-2 l2,6 l-7,2 z" fill="#333"/><path d="M1536,1076 l4,-1" stroke="#222" stroke-width="2"/>
<rect x="759" y="414" width="14" height="11" rx="3" transform="rotate(35 766 420)" fill="#333" stroke="#111" stroke-width="1.2"/>
<ellipse cx="769" cy="423" rx="3.5" ry="2.8" transform="rotate(35 769 423)" fill="#ddd" stroke="#111" stroke-width="0.8"/>
<path d="M1087.8,774.7 L1102.6,766 L1118.7,774.7 L1103.8,784.5 Z" fill="none" stroke="#111" stroke-width="2.6" stroke-linejoin="round"/>
<path d="M1085.3,800.6 L1101.4,790.7 L1117.4,800.6 L1117,812 L1105,818 L1086,810 Z" fill="#fff" stroke="#222" stroke-width="1.2"/>
<path d="M1085.3,800.6 L1105,810.5 L1117.4,800.6 M1105,810.5 L1105,818" stroke="#222" stroke-width="1" fill="none"/>
<path d="M1088,798 L1101.4,790.7 L1114,798 L1104,804 Z" fill="#555"/>
<path d="M1089,801 L1115,799 M1101,791 v15" stroke="#111" stroke-width="2"/>
<path d="M1012,796 L1022,791 L1033,795 L1034.6,805 L1026,813 L1014,808 Z" fill="#fff" stroke="#333" stroke-width="1.1"/>
<path d="M1009,800 l6,-3 l3,9 l-7,3 z" fill="#222"/><path d="M1015,797 l4,-3 l2,9 l-4,2 z" fill="#333"/>
<path d="M1025,798 l2,6 l4,-5" stroke="#222" stroke-width="1.1" fill="none"/>
<path d="M998,813 l4,3 M1000,815 v3" stroke="#222" stroke-width="1.6"/>
<path d="M1193.4,961.9 L1201.1,967.8 L1203.4,954.5 L1210,927.8 L1255.3,918 L1256,919.6 L1253.8,940.4 L1261.2,944.8 L1263.4,932.2 L1263.4,918.9 L1255.3,914.4 L1203.4,924.8 L1194.5,952.3 Z" fill="#fff" stroke="#222" stroke-width="1.3" stroke-linejoin="round"/>
<path d="M1203.4,924.8 L1210,927.8 M1255.3,914.4 L1255.3,918 M1197,950 l7,3 M1258,931 l5,2 M1199,932 l8,3 M1200,956 l2,11" stroke="#333" stroke-width="0.9" fill="none"/>
<path d="M1180.5,1004.8 L1172.6,1049.3 L1194.3,1063.1 L1240.8,1048.3 L1249.2,1002.8 L1248.7,996.9 L1218,986 L1186.4,997.4 L1181.5,1002.8 Z" fill="#fff" stroke="#1a1a1a" stroke-width="1.4" stroke-linejoin="round"/>
<path d="M1181.5,1002.8 L1203.2,1016.7 L1249.2,1002.8 M1203.2,1016.7 L1194.3,1063.1 M1205,1018 L1196.5,1062 M1186.4,997.4 L1205,1010 L1248.7,996.9 M1192,1000 L1238,988 M1196,1004 L1243,992 M1201,1008 L1246,995" stroke="#222" stroke-width="1" fill="none"/>
<path d="M1183,1000 l5,-4 l5,2 l-4,5 z" fill="#555" stroke="#111" stroke-width="1"/>
<path d="M1208,984 l6,-2 l5,3 l-5,3 z" fill="#444" stroke="#111" stroke-width="1"/>
<path d="M1190,976 h5 M1192.5,976 v5" stroke="#222" stroke-width="1.3"/><ellipse cx="1191.5" cy="985.6" rx="2" ry="1.2" fill="#333"/>
<path d="M1229.3,964 h5 M1231.5,964 v5" stroke="#222" stroke-width="1.3"/><ellipse cx="1230" cy="973.4" rx="2" ry="1.2" fill="#333"/>
<path d="M1162.7,1089.8 L1210.2,1076 L1227,1084.9 L1231.9,1073 L1237.8,1074 L1234.9,1096.7 L1232.9,1103.6 L1227,1108.6 L1185.5,1120.4 L1159.8,1106.6 L1158.8,1096.7 Z" fill="#fff" stroke="#1a1a1a" stroke-width="1.4" stroke-linejoin="round"/>
<path d="M1162.7,1089.8 L1184.5,1103.6 L1234.9,1092.8 M1184.5,1103.6 L1185.5,1120.4 M1165,1093 L1185,1101 L1232,1090 M1210.2,1076 L1210,1094 M1190,1100 l22,-6 M1195,1102 l20,-5" stroke="#222" stroke-width="1" fill="none"/>
<path d="M1159,1097 l6,-2 l4,6 l-6,3 z M1166,1102 l6,-3 l3,6 l-6,3 z M1172,1096 l5,-2 l3,5 l-5,2 z" fill="#666" stroke="#111" stroke-width="1"/>
<circle cx="1191" cy="1104" r="2.5" fill="#333"/>
<ellipse cx="1174" cy="1133" rx="3" ry="1.6" fill="#555" stroke="#111" stroke-width="0.8"/><path d="M1174,1134 v5" stroke="#333" stroke-width="1.2"/>
<ellipse cx="1186.4" cy="1140.5" rx="3" ry="1.6" fill="#555" stroke="#111" stroke-width="0.8"/><path d="M1186.4,1142 v5" stroke="#333" stroke-width="1.2"/>
<ellipse cx="1193.8" cy="1129.4" rx="3" ry="1.6" fill="#555" stroke="#111" stroke-width="0.8"/><path d="M1193.8,1131 v5" stroke="#333" stroke-width="1.2"/>
<ellipse cx="1201.7" cy="1134.3" rx="3" ry="1.6" fill="#555" stroke="#111" stroke-width="0.8"/><path d="M1201.7,1136 v5" stroke="#333" stroke-width="1.2"/>
<path d="M1012,946 C1014,952 1015,956 1016,961.5 C1014,970 1008,978 1003.8,986.2 C998,996 993,1004 991.4,1011 C989,1018 989,1024 990,1028.2 C993,1035 998,1040 1003.8,1043 C1010,1048 1016,1052 1023.5,1054.2 C1032,1055 1040,1053 1048.2,1051.7 C1058,1050 1068,1046 1077.9,1044.3 C1085,1044 1091,1046 1097,1049" class="c4"/><path d="M1012,946 C1014,952 1015,956 1016,961.5 C1014,970 1008,978 1003.8,986.2 C998,996 993,1004 991.4,1011 C989,1018 989,1024 990,1028.2 C993,1035 998,1040 1003.8,1043 C1010,1048 1016,1052 1023.5,1054.2 C1032,1055 1040,1053 1048.2,1051.7 C1058,1050 1068,1046 1077.9,1044.3 C1085,1044 1091,1046 1097,1049" class="c4i"/>
<path d="M1006,935 l5,-2 l4,11 l-5,2 z" fill="#fff" stroke="#222" stroke-width="1.1"/>
<ellipse cx="1005.5" cy="932" rx="4.5" ry="3.8" transform="rotate(-30 1005.5 932)" fill="#fff" stroke="#222" stroke-width="1.2"/>
<ellipse cx="1004.5" cy="932.5" rx="2" ry="2.5" fill="none" stroke="#333" stroke-width="0.8"/><path d="M1003,924 h3 v4 h-3 z" fill="none" stroke="#333" stroke-width="0.8"/>
<path d="M1097.7,1048 L1111,1051 L1115,1056 L1111,1058 L1097,1055 Z" fill="#fff" stroke="#222" stroke-width="1.2"/>
<circle cx="1112" cy="1054" r="3.2" fill="none" stroke="#222" stroke-width="1"/>
<circle cx="1121" cy="1057.4" r="2.2" fill="#333"/>
<circle cx="1131" cy="1060.4" r="2.2" fill="#bbb" stroke="#333" stroke-width="1"/>
<path d="M1284.5,995.6 C1285,1000 1285,1006 1284.5,1011.6 C1282,1018 1277,1025 1275.8,1031.4 C1275,1036 1277,1040 1280.8,1041.3 C1287,1043 1293,1044 1298,1043.8 C1302,1042 1304,1040 1304.2,1038.8" class="c3"/><path d="M1284.5,995.6 C1285,1000 1285,1006 1284.5,1011.6 C1282,1018 1277,1025 1275.8,1031.4 C1275,1036 1277,1040 1280.8,1041.3 C1287,1043 1293,1044 1298,1043.8 C1302,1042 1304,1040 1304.2,1038.8" class="c3i"/>
<path d="M1274.6,994 L1287,992 L1288,997 L1276,998.5 Z" fill="#fff" stroke="#222" stroke-width="1.2"/>
<path d="M1296,1031 l6,-4 l3,9 l-6,3 z" fill="#fff" stroke="#222" stroke-width="1.2"/>
<circle cx="1310" cy="1024" r="1.8" fill="#222"/>
<path d="M1285,969.6 h4 M1287,969 v6" stroke="#222" stroke-width="1.3"/>
<ellipse cx="1285.7" cy="979.5" rx="2.2" ry="1.3" fill="#333"/>
<circle cx="1284.5" cy="987" r="2.2" fill="#555" stroke="#222" stroke-width="0.8"/>
<g id="leaders">
<line x1="455.8" y1="529.8" x2="437" y2="584" class="ld"/>
<line x1="306" y1="642" x2="257" y2="659.5" class="ld"/>
<line x1="434.6" y1="661.7" x2="446.6" y2="697.1" class="ld"/>
<line x1="225.4" y1="849.5" x2="270.4" y2="821.6" class="ld"/>
<line x1="530.6" y1="907" x2="655.8" y2="934.3" class="lt"/>
<line x1="701.7" y1="926.4" x2="712" y2="812.8" class="lt"/>
<line x1="771.4" y1="938.8" x2="803.5" y2="920.2" class="lt"/>
<line x1="827" y1="808.4" x2="835.6" y2="780.7" class="lt"/>
<line x1="619" y1="1016" x2="682.6" y2="1035" class="lt"/>
<line x1="547.9" y1="692.6" x2="528.7" y2="737.7" class="ld"/>
<line x1="547.9" y1="692.6" x2="559.6" y2="714.9" class="ld"/>
<line x1="547.9" y1="692.6" x2="597.9" y2="730.3" class="ld"/>
<line x1="502.8" y1="718" x2="513.9" y2="755" class="ld"/>
<line x1="604" y1="748.2" x2="621" y2="770" class="ld"/>
<line x1="520" y1="781.6" x2="542.3" y2="798.2" class="ld"/>
<line x1="522.5" y1="793.9" x2="542.3" y2="799.5" class="ld"/>
<line x1="584.3" y1="767.4" x2="605.3" y2="794.5" class="ld"/>
<line x1="792" y1="344" x2="787" y2="385" class="ld"/>
<line x1="792" y1="344" x2="798" y2="375" class="ld"/>
<line x1="792" y1="344" x2="834" y2="360" class="ld"/>
<line x1="929.6" y1="330" x2="972.1" y2="352.2" class="ld"/>
<line x1="913.8" y1="407" x2="955.3" y2="431.8" class="ld"/>
<line x1="914.3" y1="438.2" x2="943.5" y2="450" class="ld"/>
<line x1="1118.5" y1="365.4" x2="1149.4" y2="402.5" class="ld"/>
<line x1="1149.5" y1="441.7" x2="1176" y2="436.1" class="ld"/>
<line x1="1096.7" y1="477.8" x2="1120" y2="469" class="ld"/>
<line x1="1150" y1="489.5" x2="1178.4" y2="475" class="ld"/>
<line x1="1214.5" y1="516.8" x2="1247.3" y2="502.3" class="ld"/>
<line x1="1089.5" y1="522.3" x2="1097.8" y2="532.3" class="ld"/>
<line x1="1112" y1="546" x2="1124.5" y2="553.4" class="ld"/>
<line x1="959.3" y1="524.8" x2="941.4" y2="561.8" class="ld"/>
<line x1="996.4" y1="527.2" x2="988.3" y2="564.3" class="ld"/>
<line x1="1061.8" y1="484" x2="1050" y2="501.3" class="ld"/>
<line x1="1073.6" y1="559.4" x2="1074.8" y2="586" class="ld"/>
<line x1="1206.6" y1="617.8" x2="1221.4" y2="634.5" class="ld"/>
<line x1="1156.6" y1="677.7" x2="1173.9" y2="698.7" class="ld"/>
<line x1="1222" y1="779" x2="1243" y2="771.6" class="ld"/>
<line x1="1447" y1="764.7" x2="1464.2" y2="779.5" class="ld"/>
<line x1="1460.5" y1="740" x2="1475.4" y2="761" class="ld"/>
<line x1="1492.6" y1="737" x2="1494" y2="746" class="ld"/>
<line x1="1516" y1="737" x2="1511" y2="753.6" class="ld"/>
<line x1="1550.7" y1="762.2" x2="1518" y2="780.8" class="ld"/>
<line x1="1537" y1="794.4" x2="1498.8" y2="796.8" class="ld"/>
<line x1="1568" y1="809.2" x2="1524.8" y2="810.4" class="ld"/>
<line x1="1574.8" y1="852.4" x2="1544" y2="831.4" class="ld"/>
<line x1="1472.9" y1="919.1" x2="1535.9" y2="889.5" class="ld"/>
<line x1="1406" y1="891.3" x2="1421.6" y2="866.6" class="ld"/>
<line x1="1576.7" y1="921.6" x2="1587.8" y2="960" class="ld"/>
<line x1="1307.2" y1="892.3" x2="1321.4" y2="881.8" class="ld"/>
<line x1="1326.4" y1="909" x2="1332.5" y2="885.5" class="ld"/>
<line x1="950.6" y1="699.3" x2="966.7" y2="646.2" class="ld"/>
<line x1="1078" y1="701.8" x2="1095.2" y2="727.7" class="ld"/>
<line x1="1058.1" y1="767.2" x2="1087.8" y2="774.7" class="ld"/>
<line x1="1120" y1="805.5" x2="1147" y2="801.8" class="ld"/>
<line x1="981.5" y1="789.5" x2="1013.7" y2="798" class="ld"/>
<line x1="1003.8" y1="855" x2="998.8" y2="814.2" class="ld"/>
<line x1="1003.8" y1="855" x2="1001.3" y2="814.2" class="ld"/>
<line x1="1163.3" y1="916.7" x2="1199" y2="937.4" class="ld"/>
<line x1="1164" y1="975.2" x2="1190" y2="979.7" class="ld"/>
<line x1="1164" y1="975.2" x2="1191.5" y2="985.6" class="ld"/>
<line x1="1250" y1="961.1" x2="1233" y2="966.3" class="ld"/>
<line x1="1250" y1="961.1" x2="1230.8" y2="973.8" class="ld"/>
<line x1="1150" y1="1012.3" x2="1176" y2="1023.4" class="ld"/>
<line x1="1234.9" y1="1096.7" x2="1271.9" y2="1107.6" class="ld"/>
<line x1="1194.3" y1="1163.5" x2="1175.3" y2="1138" class="ld"/>
<line x1="1194.3" y1="1163.5" x2="1186.4" y2="1145.4" class="ld"/>
<line x1="1194.3" y1="1163.5" x2="1193.8" y2="1134.3" class="ld"/>
<line x1="1194.3" y1="1163.5" x2="1202.5" y2="1138" class="ld"/>
<line x1="979" y1="1080.6" x2="1011.2" y2="1050.5" class="ld"/>
<line x1="1094" y1="1074" x2="1121" y2="1059" class="ld"/>
<line x1="1111.2" y1="1091.2" x2="1129.8" y2="1062.8" class="ld"/>
<line x1="1304.2" y1="1014" x2="1298" y2="1035" class="ld"/>
<line x1="1310.4" y1="1025.2" x2="1345" y2="1038.8" class="ld"/>
<line x1="1299.3" y1="1045" x2="1314" y2="1068.5" class="ld"/>
<line x1="1290.6" y1="969.6" x2="1319" y2="952.4" class="ld"/>
<line x1="1287" y1="979.5" x2="1319" y2="969.6" class="ld"/>
<line x1="1286" y1="987" x2="1314" y2="986.4" class="ld"/>
</g>
<g id="labels">
<text x="900.8" y="326.4">1600</text>
<text x="774.4" y="338.3">1440</text>
<text x="1097.4" y="362.2">1650</text>
<text x="883.8" y="403">1731</text>
<text x="878.3" y="439">1760</text>
<text x="1178.8" y="440">1710</text>
<text x="1123.3" y="472.6">1740</text>
<text x="1179.8" y="475.5">1820</text>
<text x="1251.8" y="501">1830</text>
<text x="1028.8" y="516.3">1735</text>
<text x="1090.8" y="544">1580</text>
<text x="923.3" y="577">1190</text>
<text x="972.6" y="580">1700</text>
<text x="1060.3" y="602.7">1030</text>
<text x="1181.8" y="615">1580</text>
<text x="1137.5" y="674.5">150</text>
<text x="1059.8" y="698">1815</text>
<text x="930.7" y="718.6">1730</text>
<text x="1017.8" y="764">1805a</text>
<text x="953.8" y="791">200</text>
<text x="1146.8" y="807">1805</text>
<text x="1196.3" y="788">925</text>
<text x="992.4" y="864.5">850</text>
<text x="439.8" y="526">1400b</text>
<text x="308.6" y="638.5">1400a</text>
<text x="412.8" y="657">1400c</text>
<text x="532.8" y="689">1430</text>
<text x="485.2" y="714">1410</text>
<text x="604.5" y="781">1430</text>
<text x="596.4" y="811.5">1420</text>
<text x="540.3" y="815.6">1430</text>
<text x="807.2" y="774.6">1400d</text>
<text x="661.4" y="939.7">1400g</text>
<text x="810.4" y="916">1400e</text>
<text x="692.8" y="1047">1400f</text>
<text x="202.3" y="864.3">1400</text>
<text x="1473.2" y="714">951</text>
<text x="1517.8" y="712">950</text>
<text x="1444.8" y="733">954</text>
<text x="1425.8" y="761">953</text>
<text x="1554.8" y="761">951</text>
<text x="1539.5" y="797">961</text>
<text x="1573.3" y="812">960</text>
<text x="1567.8" y="867.5">952</text>
<text x="1274.8" y="905.6">1320</text>
<text x="1309.8" y="923">1340</text>
<text x="1390.4" y="906.6">930</text>
<text x="1440.8" y="932">1000</text>
<text x="1594.8" y="981">935</text>
<text x="1319.8" y="952.5">1530</text>
<text x="1319.6" y="971.8">1550</text>
<text x="1314.7" y="991">1540</text>
<text x="1137.8" y="915">420</text>
<text x="1252.2" y="961.8">340a</text>
<text x="1126.8" y="977">340a</text>
<text x="1117.2" y="1009">340</text>
<text x="954.6" y="1096">1070</text>
<text x="1060.8" y="1083">1080</text>
<text x="1094.8" y="1104.7">1090</text>
<text x="1273.6" y="1120">410</text>
<text x="1184.8" y="1182">380</text>
<text x="1290.8" y="1011">1050</text>
<text x="1345.3" y="1053">1060</text>
<text x="1299.8" y="1081.3">1040</text>
<text x="0.8" y="1300">09S1801</text>
</g>
<g opacity="0.75"><path d="M324.6,798.0h3.9v4.0h-3.9zM324.6,802.0h3.9v4.0h-3.9zM324.6,806.0h3.9v4.0h-3.9zM324.6,810.0h3.9v4.0h-3.9zM324.6,814.0h3.9v4.0h-3.9zM309.0,818.0h3.9v4.0h-3.9zM324.6,818.0h3.9v4.0h-3.9zM309.0,822.0h19.5v4.0h-19.5zM332.1,798.0h19.5v4.0h-19.5zM332.1,802.0h3.9v4.0h-3.9zM332.1,806.0h3.9v4.0h-3.9zM332.1,810.0h15.6v4.0h-15.6zM332.1,814.0h3.9v4.0h-3.9zM332.1,818.0h3.9v4.0h-3.9zM332.1,822.0h19.5v4.0h-19.5zM355.2,798.0h19.5v4.0h-19.5zM363.0,802.0h3.9v4.0h-3.9zM363.0,806.0h3.9v4.0h-3.9zM363.0,810.0h3.9v4.0h-3.9zM363.0,814.0h3.9v4.0h-3.9zM363.0,818.0h3.9v4.0h-3.9zM363.0,822.0h3.9v4.0h-3.9zM378.3,798.0h19.5v4.0h-19.5zM378.3,802.0h3.9v4.0h-3.9zM378.3,806.0h3.9v4.0h-3.9zM378.3,810.0h19.5v4.0h-19.5zM393.9,814.0h3.9v4.0h-3.9zM393.9,818.0h3.9v4.0h-3.9zM378.3,822.0h19.5v4.0h-19.5zM401.4,798.0h3.9v4.0h-3.9zM417.0,798.0h3.9v4.0h-3.9zM401.4,802.0h3.9v4.0h-3.9zM413.1,802.0h3.9v4.0h-3.9zM401.4,806.0h3.9v4.0h-3.9zM409.2,806.0h3.9v4.0h-3.9zM401.4,810.0h7.8v4.0h-7.8zM401.4,814.0h3.9v4.0h-3.9zM409.2,814.0h3.9v4.0h-3.9zM401.4,818.0h3.9v4.0h-3.9zM413.1,818.0h3.9v4.0h-3.9zM401.4,822.0h3.9v4.0h-3.9zM417.0,822.0h3.9v4.0h-3.9zM424.5,798.0h3.9v4.0h-3.9zM424.5,802.0h3.9v4.0h-3.9zM424.5,806.0h3.9v4.0h-3.9zM424.5,810.0h3.9v4.0h-3.9zM424.5,814.0h3.9v4.0h-3.9zM424.5,818.0h3.9v4.0h-3.9zM424.5,822.0h3.9v4.0h-3.9zM432.0,822.0h3.9v4.0h-3.9zM439.5,798.0h19.5v4.0h-19.5zM439.5,802.0h3.9v4.0h-3.9zM439.5,806.0h3.9v4.0h-3.9zM439.5,810.0h3.9v4.0h-3.9zM439.5,814.0h3.9v4.0h-3.9zM439.5,818.0h3.9v4.0h-3.9zM439.5,822.0h19.5v4.0h-19.5zM462.6,798.0h19.5v4.0h-19.5zM462.6,802.0h3.9v4.0h-3.9zM478.2,802.0h3.9v4.0h-3.9zM462.6,806.0h3.9v4.0h-3.9zM478.2,806.0h3.9v4.0h-3.9zM462.6,810.0h3.9v4.0h-3.9zM478.2,810.0h3.9v4.0h-3.9zM462.6,814.0h3.9v4.0h-3.9zM478.2,814.0h3.9v4.0h-3.9zM462.6,818.0h3.9v4.0h-3.9zM478.2,818.0h3.9v4.0h-3.9zM462.6,822.0h19.5v4.0h-19.5zM485.7,798.0h19.5v4.0h-19.5zM485.7,802.0h3.9v4.0h-3.9zM493.5,802.0h3.9v4.0h-3.9zM501.3,802.0h3.9v4.0h-3.9zM485.7,806.0h3.9v4.0h-3.9zM493.5,806.0h3.9v4.0h-3.9zM501.3,806.0h3.9v4.0h-3.9zM485.7,810.0h3.9v4.0h-3.9zM493.5,810.0h3.9v4.0h-3.9zM501.3,810.0h3.9v4.0h-3.9zM485.7,814.0h3.9v4.0h-3.9zM493.5,814.0h3.9v4.0h-3.9zM501.3,814.0h3.9v4.0h-3.9zM485.7,818.0h3.9v4.0h-3.9zM493.5,818.0h3.9v4.0h-3.9zM501.3,818.0h3.9v4.0h-3.9zM485.7,822.0h3.9v4.0h-3.9zM493.5,822.0h3.9v4.0h-3.9zM501.3,822.0h3.9v4.0h-3.9zM541.0,794.5h19.5v4.0h-19.5zM541.0,798.5h3.9v4.0h-3.9zM556.6,798.5h3.9v4.0h-3.9zM541.0,802.5h3.9v4.0h-3.9zM556.6,802.5h3.9v4.0h-3.9zM541.0,806.5h19.5v4.0h-19.5zM541.0,810.5h3.9v4.0h-3.9zM541.0,814.5h3.9v4.0h-3.9zM541.0,818.5h3.9v4.0h-3.9zM565.2,794.5h19.5v4.0h-19.5zM565.2,798.5h3.9v4.0h-3.9zM580.8,798.5h3.9v4.0h-3.9zM565.2,802.5h3.9v4.0h-3.9zM580.8,802.5h3.9v4.0h-3.9zM565.2,806.5h19.5v4.0h-19.5zM565.2,810.5h3.9v4.0h-3.9zM576.9,810.5h3.9v4.0h-3.9zM565.2,814.5h3.9v4.0h-3.9zM580.8,814.5h3.9v4.0h-3.9zM565.2,818.5h3.9v4.0h-3.9zM580.8,818.5h3.9v4.0h-3.9zM589.3,794.5h19.5v4.0h-19.5zM589.3,798.5h3.9v4.0h-3.9zM604.9,798.5h3.9v4.0h-3.9zM589.3,802.5h3.9v4.0h-3.9zM604.9,802.5h3.9v4.0h-3.9zM589.3,806.5h3.9v4.0h-3.9zM604.9,806.5h3.9v4.0h-3.9zM589.3,810.5h3.9v4.0h-3.9zM604.9,810.5h3.9v4.0h-3.9zM589.3,814.5h3.9v4.0h-3.9zM604.9,814.5h3.9v4.0h-3.9zM589.3,818.5h19.5v4.0h-19.5zM613.5,794.5h19.5v4.0h-19.5zM613.5,798.5h3.9v4.0h-3.9zM621.3,798.5h3.9v4.0h-3.9zM629.1,798.5h3.9v4.0h-3.9zM613.5,802.5h3.9v4.0h-3.9zM621.3,802.5h3.9v4.0h-3.9zM629.1,802.5h3.9v4.0h-3.9zM613.5,806.5h3.9v4.0h-3.9zM621.3,806.5h3.9v4.0h-3.9zM629.1,806.5h3.9v4.0h-3.9zM613.5,810.5h3.9v4.0h-3.9zM621.3,810.5h3.9v4.0h-3.9zM629.1,810.5h3.9v4.0h-3.9zM613.5,814.5h3.9v4.0h-3.9zM621.3,814.5h3.9v4.0h-3.9zM629.1,814.5h3.9v4.0h-3.9zM613.5,818.5h3.9v4.0h-3.9zM621.3,818.5h3.9v4.0h-3.9zM629.1,818.5h3.9v4.0h-3.9zM637.7,794.5h19.5v4.0h-19.5zM637.7,798.5h3.9v4.0h-3.9zM653.3,798.5h3.9v4.0h-3.9zM637.7,802.5h3.9v4.0h-3.9zM653.3,802.5h3.9v4.0h-3.9zM637.7,806.5h3.9v4.0h-3.9zM653.3,806.5h3.9v4.0h-3.9zM637.7,810.5h3.9v4.0h-3.9zM653.3,810.5h3.9v4.0h-3.9zM637.7,814.5h3.9v4.0h-3.9zM653.3,814.5h3.9v4.0h-3.9zM637.7,818.5h19.5v4.0h-19.5zM661.8,806.5h11.7v4.0h-11.7zM693.8,794.5h3.9v4.0h-3.9zM693.8,798.5h3.9v4.0h-3.9zM693.8,802.5h3.9v4.0h-3.9zM693.8,806.5h3.9v4.0h-3.9zM693.8,810.5h3.9v4.0h-3.9zM678.2,814.5h3.9v4.0h-3.9zM693.8,814.5h3.9v4.0h-3.9zM678.2,818.5h19.5v4.0h-19.5zM702.4,794.5h19.5v4.0h-19.5zM702.4,798.5h3.9v4.0h-3.9zM702.4,802.5h3.9v4.0h-3.9zM702.4,806.5h15.6v4.0h-15.6zM702.4,810.5h3.9v4.0h-3.9zM702.4,814.5h3.9v4.0h-3.9zM702.4,818.5h19.5v4.0h-19.5zM726.6,794.5h19.5v4.0h-19.5zM734.4,798.5h3.9v4.0h-3.9zM734.4,802.5h3.9v4.0h-3.9zM734.4,806.5h3.9v4.0h-3.9zM734.4,810.5h3.9v4.0h-3.9zM734.4,814.5h3.9v4.0h-3.9zM734.4,818.5h3.9v4.0h-3.9zM750.7,794.5h19.5v4.0h-19.5zM750.7,798.5h3.9v4.0h-3.9zM750.7,802.5h3.9v4.0h-3.9zM750.7,806.5h19.5v4.0h-19.5zM766.3,810.5h3.9v4.0h-3.9zM766.3,814.5h3.9v4.0h-3.9zM750.7,818.5h19.5v4.0h-19.5zM774.9,794.5h3.9v4.0h-3.9zM790.5,794.5h3.9v4.0h-3.9zM774.9,798.5h3.9v4.0h-3.9zM786.6,798.5h3.9v4.0h-3.9zM774.9,802.5h3.9v4.0h-3.9zM782.7,802.5h3.9v4.0h-3.9zM774.9,806.5h7.8v4.0h-7.8zM774.9,810.5h3.9v4.0h-3.9zM782.7,810.5h3.9v4.0h-3.9zM774.9,814.5h3.9v4.0h-3.9zM786.6,814.5h3.9v4.0h-3.9zM774.9,818.5h3.9v4.0h-3.9zM790.5,818.5h3.9v4.0h-3.9zM799.1,794.5h3.9v4.0h-3.9zM799.1,798.5h3.9v4.0h-3.9zM799.1,802.5h3.9v4.0h-3.9zM799.1,806.5h3.9v4.0h-3.9zM799.1,810.5h3.9v4.0h-3.9zM799.1,814.5h3.9v4.0h-3.9zM799.1,818.5h3.9v4.0h-3.9zM807.6,818.5h3.9v4.0h-3.9zM816.2,794.5h19.5v4.0h-19.5zM816.2,798.5h3.9v4.0h-3.9zM816.2,802.5h3.9v4.0h-3.9zM816.2,806.5h3.9v4.0h-3.9zM816.2,810.5h3.9v4.0h-3.9zM816.2,814.5h3.9v4.0h-3.9zM816.2,818.5h19.5v4.0h-19.5zM840.4,794.5h19.5v4.0h-19.5zM840.4,798.5h3.9v4.0h-3.9zM856.0,798.5h3.9v4.0h-3.9zM840.4,802.5h3.9v4.0h-3.9zM856.0,802.5h3.9v4.0h-3.9zM840.4,806.5h3.9v4.0h-3.9zM856.0,806.5h3.9v4.0h-3.9zM840.4,810.5h3.9v4.0h-3.9zM856.0,810.5h3.9v4.0h-3.9zM840.4,814.5h3.9v4.0h-3.9zM856.0,814.5h3.9v4.0h-3.9zM840.4,818.5h19.5v4.0h-19.5zM864.5,794.5h19.5v4.0h-19.5zM864.5,798.5h3.9v4.0h-3.9zM872.3,798.5h3.9v4.0h-3.9zM880.1,798.5h3.9v4.0h-3.9zM864.5,802.5h3.9v4.0h-3.9zM872.3,802.5h3.9v4.0h-3.9zM880.1,802.5h3.9v4.0h-3.9zM864.5,806.5h3.9v4.0h-3.9zM872.3,806.5h3.9v4.0h-3.9zM880.1,806.5h3.9v4.0h-3.9zM864.5,810.5h3.9v4.0h-3.9zM872.3,810.5h3.9v4.0h-3.9zM880.1,810.5h3.9v4.0h-3.9zM864.5,814.5h3.9v4.0h-3.9zM872.3,814.5h3.9v4.0h-3.9zM880.1,814.5h3.9v4.0h-3.9zM864.5,818.5h3.9v4.0h-3.9zM872.3,818.5h3.9v4.0h-3.9zM880.1,818.5h3.9v4.0h-3.9zM921.0,793.5h19.5v4.0h-19.5zM921.0,797.5h3.9v4.0h-3.9zM936.6,797.5h3.9v4.0h-3.9zM921.0,801.5h3.9v4.0h-3.9zM936.6,801.5h3.9v4.0h-3.9zM921.0,805.5h19.5v4.0h-19.5zM921.0,809.5h3.9v4.0h-3.9zM921.0,813.5h3.9v4.0h-3.9zM921.0,817.5h3.9v4.0h-3.9zM945.2,793.5h19.5v4.0h-19.5zM945.2,797.5h3.9v4.0h-3.9zM960.8,797.5h3.9v4.0h-3.9zM945.2,801.5h3.9v4.0h-3.9zM960.8,801.5h3.9v4.0h-3.9zM945.2,805.5h19.5v4.0h-19.5zM945.2,809.5h3.9v4.0h-3.9zM956.9,809.5h3.9v4.0h-3.9zM945.2,813.5h3.9v4.0h-3.9zM960.8,813.5h3.9v4.0h-3.9zM945.2,817.5h3.9v4.0h-3.9zM960.8,817.5h3.9v4.0h-3.9zM969.3,793.5h19.5v4.0h-19.5zM969.3,797.5h3.9v4.0h-3.9zM984.9,797.5h3.9v4.0h-3.9zM969.3,801.5h3.9v4.0h-3.9zM984.9,801.5h3.9v4.0h-3.9zM969.3,805.5h3.9v4.0h-3.9zM984.9,805.5h3.9v4.0h-3.9zM969.3,809.5h3.9v4.0h-3.9zM984.9,809.5h3.9v4.0h-3.9zM969.3,813.5h3.9v4.0h-3.9zM984.9,813.5h3.9v4.0h-3.9zM969.3,817.5h19.5v4.0h-19.5zM993.5,793.5h19.5v4.0h-19.5zM993.5,797.5h3.9v4.0h-3.9zM1001.3,797.5h3.9v4.0h-3.9zM1009.1,797.5h3.9v4.0h-3.9zM993.5,801.5h3.9v4.0h-3.9zM1001.3,801.5h3.9v4.0h-3.9zM1009.1,801.5h3.9v4.0h-3.9zM993.5,805.5h3.9v4.0h-3.9zM1001.3,805.5h3.9v4.0h-3.9zM1009.1,805.5h3.9v4.0h-3.9zM993.5,809.5h3.9v4.0h-3.9zM1001.3,809.5h3.9v4.0h-3.9zM1009.1,809.5h3.9v4.0h-3.9zM993.5,813.5h3.9v4.0h-3.9zM1001.3,813.5h3.9v4.0h-3.9zM1009.1,813.5h3.9v4.0h-3.9zM993.5,817.5h3.9v4.0h-3.9zM1001.3,817.5h3.9v4.0h-3.9zM1009.1,817.5h3.9v4.0h-3.9zM1017.7,793.5h19.5v4.0h-19.5zM1017.7,797.5h3.9v4.0h-3.9zM1033.3,797.5h3.9v4.0h-3.9zM1017.7,801.5h3.9v4.0h-3.9zM1033.3,801.5h3.9v4.0h-3.9zM1017.7,805.5h3.9v4.0h-3.9zM1033.3,805.5h3.9v4.0h-3.9zM1017.7,809.5h3.9v4.0h-3.9zM1033.3,809.5h3.9v4.0h-3.9zM1017.7,813.5h3.9v4.0h-3.9zM1033.3,813.5h3.9v4.0h-3.9zM1017.7,817.5h19.5v4.0h-19.5zM1041.8,805.5h11.7v4.0h-11.7zM1073.8,793.5h3.9v4.0h-3.9zM1073.8,797.5h3.9v4.0h-3.9zM1073.8,801.5h3.9v4.0h-3.9zM1073.8,805.5h3.9v4.0h-3.9zM1073.8,809.5h3.9v4.0h-3.9zM1058.2,813.5h3.9v4.0h-3.9zM1073.8,813.5h3.9v4.0h-3.9zM1058.2,817.5h19.5v4.0h-19.5zM1082.4,793.5h19.5v4.0h-19.5zM1082.4,797.5h3.9v4.0h-3.9zM1082.4,801.5h3.9v4.0h-3.9zM1082.4,805.5h15.6v4.0h-15.6zM1082.4,809.5h3.9v4.0h-3.9zM1082.4,813.5h3.9v4.0h-3.9zM1082.4,817.5h19.5v4.0h-19.5zM1106.6,793.5h19.5v4.0h-19.5zM1114.4,797.5h3.9v4.0h-3.9zM1114.4,801.5h3.9v4.0h-3.9zM1114.4,805.5h3.9v4.0h-3.9zM1114.4,809.5h3.9v4.0h-3.9zM1114.4,813.5h3.9v4.0h-3.9zM1114.4,817.5h3.9v4.0h-3.9zM1130.7,793.5h19.5v4.0h-19.5zM1130.7,797.5h3.9v4.0h-3.9zM1130.7,801.5h3.9v4.0h-3.9zM1130.7,805.5h19.5v4.0h-19.5zM1146.3,809.5h3.9v4.0h-3.9zM1146.3,813.5h3.9v4.0h-3.9zM1130.7,817.5h19.5v4.0h-19.5zM1154.9,793.5h3.9v4.0h-3.9zM1170.5,793.5h3.9v4.0h-3.9zM1154.9,797.5h3.9v4.0h-3.9zM1166.6,797.5h3.9v4.0h-3.9zM1154.9,801.5h3.9v4.0h-3.9zM1162.7,801.5h3.9v4.0h-3.9zM1154.9,805.5h7.8v4.0h-7.8zM1154.9,809.5h3.9v4.0h-3.9zM1162.7,809.5h3.9v4.0h-3.9zM1154.9,813.5h3.9v4.0h-3.9zM1166.6,813.5h3.9v4.0h-3.9zM1154.9,817.5h3.9v4.0h-3.9zM1170.5,817.5h3.9v4.0h-3.9zM1179.1,793.5h3.9v4.0h-3.9zM1179.1,797.5h3.9v4.0h-3.9zM1179.1,801.5h3.9v4.0h-3.9zM1179.1,805.5h3.9v4.0h-3.9zM1179.1,809.5h3.9v4.0h-3.9zM1179.1,813.5h3.9v4.0h-3.9zM1179.1,817.5h3.9v4.0h-3.9zM1187.6,817.5h3.9v4.0h-3.9zM1196.2,793.5h19.5v4.0h-19.5zM1196.2,797.5h3.9v4.0h-3.9zM1196.2,801.5h3.9v4.0h-3.9zM1196.2,805.5h3.9v4.0h-3.9zM1196.2,809.5h3.9v4.0h-3.9zM1196.2,813.5h3.9v4.0h-3.9zM1196.2,817.5h19.5v4.0h-19.5zM1220.4,793.5h19.5v4.0h-19.5zM1220.4,797.5h3.9v4.0h-3.9zM1236.0,797.5h3.9v4.0h-3.9zM1220.4,801.5h3.9v4.0h-3.9zM1236.0,801.5h3.9v4.0h-3.9zM1220.4,805.5h3.9v4.0h-3.9zM1236.0,805.5h3.9v4.0h-3.9zM1220.4,809.5h3.9v4.0h-3.9zM1236.0,809.5h3.9v4.0h-3.9zM1220.4,813.5h3.9v4.0h-3.9zM1236.0,813.5h3.9v4.0h-3.9zM1220.4,817.5h19.5v4.0h-19.5zM1244.6,793.5h19.5v4.0h-19.5zM1244.6,797.5h3.9v4.0h-3.9zM1252.4,797.5h3.9v4.0h-3.9zM1260.2,797.5h3.9v4.0h-3.9zM1244.6,801.5h3.9v4.0h-3.9zM1252.4,801.5h3.9v4.0h-3.9zM1260.2,801.5h3.9v4.0h-3.9zM1244.6,805.5h3.9v4.0h-3.9zM1252.4,805.5h3.9v4.0h-3.9zM1260.2,805.5h3.9v4.0h-3.9zM1244.6,809.5h3.9v4.0h-3.9zM1252.4,809.5h3.9v4.0h-3.9zM1260.2,809.5h3.9v4.0h-3.9zM1244.6,813.5h3.9v4.0h-3.9zM1252.4,813.5h3.9v4.0h-3.9zM1260.2,813.5h3.9v4.0h-3.9zM1244.6,817.5h3.9v4.0h-3.9zM1252.4,817.5h3.9v4.0h-3.9zM1260.2,817.5h3.9v4.0h-3.9z" fill="#c8c8c8" stroke="#c8c8c8" stroke-width="1.6" stroke-linejoin="miter"/></g>
</svg>
</body></html>
